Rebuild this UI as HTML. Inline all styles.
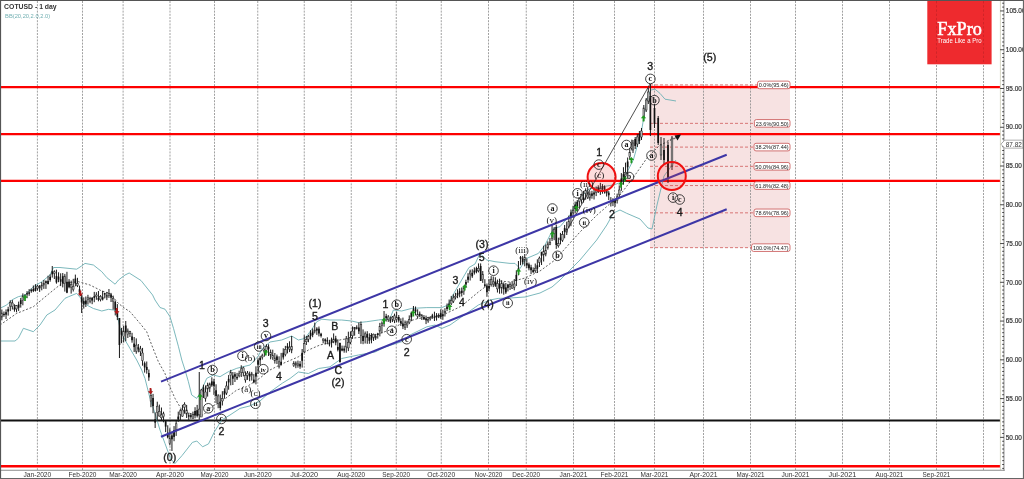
<!DOCTYPE html><html><head><meta charset="utf-8"><style>html,body{margin:0;padding:0;background:#fff;overflow:hidden}svg{display:block;will-change:transform}</style></head><body><svg width="1024" height="479" viewBox="0 0 1024 479">
<rect x="0" y="0" width="1024" height="479" fill="#fff"/>
<rect x="650" y="84.92" width="140" height="162.74" fill="#f7e2e2"/>
<line x1="37.4" y1="1" x2="37.4" y2="470" stroke="#8a8a8a" stroke-width="1" stroke-dasharray="2,1.2" opacity="0.8"/>
<line x1="82.5" y1="1" x2="82.5" y2="470" stroke="#8a8a8a" stroke-width="1" stroke-dasharray="2,1.2" opacity="0.8"/>
<line x1="123.1" y1="1" x2="123.1" y2="470" stroke="#8a8a8a" stroke-width="1" stroke-dasharray="2,1.2" opacity="0.8"/>
<line x1="170" y1="1" x2="170" y2="470" stroke="#8a8a8a" stroke-width="1" stroke-dasharray="2,1.2" opacity="0.8"/>
<line x1="214.5" y1="1" x2="214.5" y2="470" stroke="#8a8a8a" stroke-width="1" stroke-dasharray="2,1.2" opacity="0.8"/>
<line x1="257.75" y1="1" x2="257.75" y2="470" stroke="#8a8a8a" stroke-width="1" stroke-dasharray="2,1.2" opacity="0.8"/>
<line x1="304.25" y1="1" x2="304.25" y2="470" stroke="#8a8a8a" stroke-width="1" stroke-dasharray="2,1.2" opacity="0.8"/>
<line x1="351.25" y1="1" x2="351.25" y2="470" stroke="#8a8a8a" stroke-width="1" stroke-dasharray="2,1.2" opacity="0.8"/>
<line x1="396.25" y1="1" x2="396.25" y2="470" stroke="#8a8a8a" stroke-width="1" stroke-dasharray="2,1.2" opacity="0.8"/>
<line x1="441.25" y1="1" x2="441.25" y2="470" stroke="#8a8a8a" stroke-width="1" stroke-dasharray="2,1.2" opacity="0.8"/>
<line x1="488.5" y1="1" x2="488.5" y2="470" stroke="#8a8a8a" stroke-width="1" stroke-dasharray="2,1.2" opacity="0.8"/>
<line x1="526.25" y1="1" x2="526.25" y2="470" stroke="#8a8a8a" stroke-width="1" stroke-dasharray="2,1.2" opacity="0.8"/>
<line x1="573.5" y1="1" x2="573.5" y2="470" stroke="#8a8a8a" stroke-width="1" stroke-dasharray="2,1.2" opacity="0.8"/>
<line x1="614.5" y1="1" x2="614.5" y2="470" stroke="#8a8a8a" stroke-width="1" stroke-dasharray="2,1.2" opacity="0.8"/>
<line x1="654.5" y1="1" x2="654.5" y2="470" stroke="#8a8a8a" stroke-width="1" stroke-dasharray="2,1.2" opacity="0.8"/>
<line x1="703.5" y1="1" x2="703.5" y2="470" stroke="#8a8a8a" stroke-width="1" stroke-dasharray="2,1.2" opacity="0.8"/>
<line x1="750.5" y1="1" x2="750.5" y2="470" stroke="#8a8a8a" stroke-width="1" stroke-dasharray="2,1.2" opacity="0.8"/>
<line x1="795.5" y1="1" x2="795.5" y2="470" stroke="#8a8a8a" stroke-width="1" stroke-dasharray="2,1.2" opacity="0.8"/>
<line x1="842.5" y1="1" x2="842.5" y2="470" stroke="#8a8a8a" stroke-width="1" stroke-dasharray="2,1.2" opacity="0.8"/>
<line x1="889.5" y1="1" x2="889.5" y2="470" stroke="#8a8a8a" stroke-width="1" stroke-dasharray="2,1.2" opacity="0.8"/>
<line x1="936.5" y1="1" x2="936.5" y2="470" stroke="#8a8a8a" stroke-width="1" stroke-dasharray="2,1.2" opacity="0.8"/>
<line x1="983.5" y1="1" x2="983.5" y2="470" stroke="#8a8a8a" stroke-width="1" stroke-dasharray="2,1.2" opacity="0.8"/>
<line x1="650" y1="84.92" x2="790" y2="84.92" stroke="#d46a6a" stroke-width="0.9" stroke-dasharray="3,2"/>
<line x1="650" y1="123.37" x2="790" y2="123.37" stroke="#d46a6a" stroke-width="0.9" stroke-dasharray="3,2"/>
<line x1="650" y1="147.10" x2="790" y2="147.10" stroke="#d46a6a" stroke-width="0.9" stroke-dasharray="3,2"/>
<line x1="650" y1="166.33" x2="790" y2="166.33" stroke="#d46a6a" stroke-width="0.9" stroke-dasharray="3,2"/>
<line x1="650" y1="185.55" x2="790" y2="185.55" stroke="#d46a6a" stroke-width="0.9" stroke-dasharray="3,2"/>
<line x1="650" y1="212.84" x2="790" y2="212.84" stroke="#d46a6a" stroke-width="0.9" stroke-dasharray="3,2"/>
<line x1="650" y1="247.65" x2="790" y2="247.65" stroke="#d46a6a" stroke-width="0.9" stroke-dasharray="3,2"/>
<line x1="1" y1="87.06" x2="1000.5" y2="87.06" stroke="#fd0000" stroke-width="2.3"/>
<line x1="1" y1="134.1" x2="1000.5" y2="134.1" stroke="#fd0000" stroke-width="2.3"/>
<line x1="1" y1="180.9" x2="1000.5" y2="180.9" stroke="#fd0000" stroke-width="2.3"/>
<line x1="1" y1="466.25" x2="1000.5" y2="466.25" stroke="#fd0000" stroke-width="2.3"/>
<line x1="1" y1="420.5" x2="1000.5" y2="420.5" stroke="#111" stroke-width="2"/>
<path d="M0.0,308.3 L6.7,305.0 L11.7,300.0 L18.3,296.7 L25.0,295.0 L33.4,286.7 L41.8,281.7 L50.0,275.0 L53.5,267.5 L60.0,267.5 L76.7,269.2 L81.7,265.9 L85.0,263.4 L93.4,265.0 L101.8,271.7 L106.8,277.6 L115.1,284.2 L118.5,280.0 L125.0,275.0 L129.2,273.0 L141.0,280.5 L152.6,295.0 L155.0,300.0 L160.0,307.5 L165.0,309.2 L170.0,316.7 L173.5,328.4 L178.5,346.8 L181.8,360.0 L185.0,370.0 L188.4,381.7 L191.7,395.0 L196.7,398.4 L200.9,391.7 L206.7,378.4 L213.4,375.0 L220.0,376.7 L228.4,371.7 L236.8,368.3 L250.0,365.0 L258.0,356.5 L262.0,349.0 L270.0,342.0 L281.7,340.0 L291.7,336.0 L298.4,340.0 L305.0,338.4 L311.8,329.2 L316.8,321.7 L321.8,319.2 L330.0,320.0 L341.7,320.0 L351.7,321.0 L358.4,322.6 L366.8,321.7 L378.5,320.0 L390.0,318.4 L393.4,310.0 L401.7,311.0 L411.7,308.4 L426.8,307.6 L441.8,307.6 L448.0,305.0 L454.3,292.6 L468.9,267.6 L475.0,264.0 L480.0,253.4 L486.8,260.0 L495.0,261.7 L510.0,263.4 L515.0,263.4 L520.0,268.5 L526.7,258.4 L538.4,253.4 L545.0,245.0 L553.5,228.4 L560.0,226.7 L570.0,215.0 L575.0,205.0 L580.0,198.0 L589.0,189.0 L614.0,184.8 L622.0,182.0 L633.3,160.0 L641.7,130.0 L646.7,100.0 L650.8,90.0 L655.0,89.2 L660.0,93.4 L665.0,99.2 L670.0,100.0 L676.0,101.0" fill="none" stroke="#6db0b4" stroke-width="0.9"/>
<path d="M0.0,341.0 L15.0,341.0 L18.3,338.3 L23.4,328.3 L33.4,331.7 L40.0,325.0 L46.8,315.0 L55.0,310.0 L65.0,298.3 L68.4,296.8 L76.7,293.4 L81.7,299.3 L86.7,305.0 L93.4,308.5 L101.8,311.0 L108.5,309.3 L113.5,310.0 L116.8,312.0 L120.0,328.4 L125.0,340.0 L130.0,348.5 L136.7,360.0 L141.7,370.0 L145.0,378.5 L150.0,398.4 L155.0,413.4 L160.0,430.0 L165.0,443.5 L170.5,458.5 L174.9,463.6 L182.0,455.6 L192.4,442.4 L196.8,441.0 L202.6,446.8 L208.5,443.9 L214.3,432.0 L221.7,420.0 L230.0,415.0 L240.0,408.4 L250.0,405.9 L260.0,401.0 L270.0,392.0 L282.6,383.0 L290.0,378.5 L298.4,372.0 L308.4,373.5 L318.5,368.5 L330.0,366.8 L341.7,358.5 L358.4,355.0 L375.0,352.0 L385.0,347.0 L401.7,341.7 L410.0,335.0 L426.8,326.8 L435.0,325.0 L441.8,328.4 L450.0,325.0 L461.7,316.8 L478.4,305.0 L490.0,300.0 L498.4,298.4 L510.0,298.0 L525.0,297.0 L540.0,293.0 L552.0,287.0 L560.0,280.0 L570.0,270.0 L580.0,260.0 L596.7,240.0 L606.8,225.0 L613.5,213.0 L620.0,210.0 L626.7,213.3 L640.0,219.0 L648.0,228.0 L652.0,229.0 L657.0,205.0 L664.0,176.0 L676.0,160.0" fill="none" stroke="#6db0b4" stroke-width="0.9"/>
<path d="M0.0,325.0 L16.7,313.4 L33.4,306.7 L43.4,298.3 L53.5,290.0 L61.8,283.4 L78.4,281.7 L90.0,285.0 L101.8,291.0 L110.0,293.4 L118.5,303.5 L125.0,308.5 L130.0,311.7 L140.0,323.4 L146.7,331.7 L151.7,345.0 L158.4,361.8 L165.0,373.5 L168.4,383.4 L175.0,398.4 L181.8,410.0 L185.0,411.7 L195.0,415.0 L203.4,415.0 L211.7,406.7 L223.4,400.0 L236.8,390.0 L246.8,386.7 L260.0,378.0 L270.0,370.0 L281.7,364.0 L298.4,356.8 L308.4,350.0 L320.0,345.0 L330.0,342.6 L341.7,339.5 L358.4,337.5 L375.0,335.0 L390.0,330.0 L401.7,323.4 L418.4,318.4 L435.0,316.8 L445.0,314.0 L461.7,306.0 L478.4,292.0 L487.0,285.5 L500.0,281.0 L510.0,282.0 L525.0,278.0 L540.0,271.0 L555.0,260.0 L570.0,243.0 L580.0,232.0 L596.5,215.5 L620.0,195.0 L633.0,178.0 L647.0,158.0 L660.0,145.0 L676.0,138.0" fill="none" stroke="#444" stroke-width="0.85" stroke-dasharray="2,1.8"/>
<line x1="1.85" y1="309.5" x2="1.85" y2="320.3" stroke="#1a1a1a" stroke-width="1"/>
<rect x="1.00" y="313.0" width="1.7" height="4.1" fill="#b4b4b4" stroke="#222" stroke-width="0.5"/>
<line x1="3.95" y1="311.5" x2="3.95" y2="316.8" stroke="#1a1a1a" stroke-width="1"/>
<rect x="3.10" y="313.8" width="1.7" height="1.3" fill="#111"/>
<line x1="6.05" y1="309.4" x2="6.05" y2="319.0" stroke="#1a1a1a" stroke-width="1"/>
<rect x="5.20" y="312.2" width="1.7" height="2.5" fill="#111"/>
<line x1="8.15" y1="306.8" x2="8.15" y2="315.6" stroke="#1a1a1a" stroke-width="1"/>
<rect x="7.30" y="309.2" width="1.7" height="2.3" fill="#111"/>
<line x1="10.25" y1="300.3" x2="10.25" y2="311.1" stroke="#1a1a1a" stroke-width="1"/>
<rect x="9.40" y="302.4" width="1.7" height="3.7" fill="#b4b4b4" stroke="#222" stroke-width="0.5"/>
<line x1="12.35" y1="300.1" x2="12.35" y2="309.5" stroke="#1a1a1a" stroke-width="1"/>
<rect x="11.50" y="303.0" width="1.7" height="3.5" fill="#b4b4b4" stroke="#222" stroke-width="0.5"/>
<line x1="14.45" y1="304.3" x2="14.45" y2="311.7" stroke="#1a1a1a" stroke-width="1"/>
<rect x="13.60" y="307.4" width="1.7" height="2.3" fill="#111"/>
<line x1="16.55" y1="305.0" x2="16.55" y2="312.3" stroke="#1a1a1a" stroke-width="1"/>
<rect x="15.70" y="305.7" width="1.7" height="3.2" fill="#b4b4b4" stroke="#222" stroke-width="0.5"/>
<line x1="18.65" y1="301.6" x2="18.65" y2="310.9" stroke="#1a1a1a" stroke-width="1"/>
<rect x="17.80" y="304.4" width="1.7" height="3.3" fill="#111"/>
<line x1="20.75" y1="297.9" x2="20.75" y2="307.6" stroke="#1a1a1a" stroke-width="1"/>
<rect x="19.90" y="300.2" width="1.7" height="3.8" fill="#111"/>
<line x1="22.85" y1="293.4" x2="22.85" y2="305.3" stroke="#1a1a1a" stroke-width="1"/>
<rect x="22.00" y="296.1" width="1.7" height="4.2" fill="#b4b4b4" stroke="#222" stroke-width="0.5"/>
<line x1="24.95" y1="294.2" x2="24.95" y2="298.5" stroke="#1a1a1a" stroke-width="1"/>
<rect x="24.10" y="295.6" width="1.7" height="1.3" fill="#111"/>
<line x1="27.05" y1="291.1" x2="27.05" y2="298.2" stroke="#1a1a1a" stroke-width="1"/>
<rect x="26.20" y="293.2" width="1.7" height="1.3" fill="#111"/>
<line x1="29.15" y1="289.1" x2="29.15" y2="295.8" stroke="#1a1a1a" stroke-width="1"/>
<rect x="28.30" y="292.3" width="1.7" height="1.5" fill="#111"/>
<line x1="31.25" y1="288.6" x2="31.25" y2="292.8" stroke="#1a1a1a" stroke-width="1"/>
<rect x="30.40" y="289.9" width="1.7" height="1.3" fill="#111"/>
<line x1="33.35" y1="285.5" x2="33.35" y2="292.1" stroke="#1a1a1a" stroke-width="1"/>
<rect x="32.50" y="288.9" width="1.7" height="2.1" fill="#111"/>
<line x1="35.45" y1="284.2" x2="35.45" y2="291.5" stroke="#1a1a1a" stroke-width="1"/>
<rect x="34.60" y="287.7" width="1.7" height="3.2" fill="#111"/>
<line x1="37.55" y1="284.9" x2="37.55" y2="290.5" stroke="#1a1a1a" stroke-width="1"/>
<rect x="36.70" y="286.1" width="1.7" height="2.1" fill="#b4b4b4" stroke="#222" stroke-width="0.5"/>
<line x1="39.65" y1="285.0" x2="39.65" y2="291.9" stroke="#1a1a1a" stroke-width="1"/>
<rect x="38.80" y="286.7" width="1.7" height="1.4" fill="#b4b4b4" stroke="#222" stroke-width="0.5"/>
<line x1="41.75" y1="282.0" x2="41.75" y2="290.3" stroke="#1a1a1a" stroke-width="1"/>
<rect x="40.90" y="285.2" width="1.7" height="1.3" fill="#b4b4b4" stroke="#222" stroke-width="0.5"/>
<line x1="43.85" y1="280.0" x2="43.85" y2="288.9" stroke="#1a1a1a" stroke-width="1"/>
<rect x="43.00" y="283.4" width="1.7" height="1.6" fill="#b4b4b4" stroke="#222" stroke-width="0.5"/>
<line x1="45.95" y1="280.4" x2="45.95" y2="288.9" stroke="#1a1a1a" stroke-width="1"/>
<rect x="45.10" y="281.2" width="1.7" height="1.7" fill="#111"/>
<line x1="48.05" y1="275.7" x2="48.05" y2="284.3" stroke="#1a1a1a" stroke-width="1"/>
<rect x="47.20" y="280.9" width="1.7" height="3.2" fill="#111"/>
<line x1="50.15" y1="274.3" x2="50.15" y2="281.7" stroke="#1a1a1a" stroke-width="1"/>
<rect x="49.30" y="276.7" width="1.7" height="3.3" fill="#111"/>
<line x1="52.25" y1="266.0" x2="52.25" y2="277.6" stroke="#1a1a1a" stroke-width="1"/>
<rect x="51.40" y="271.3" width="1.7" height="3.1" fill="#111"/>
<line x1="54.35" y1="270.3" x2="54.35" y2="279.0" stroke="#1a1a1a" stroke-width="1"/>
<rect x="53.50" y="271.8" width="1.7" height="1.6" fill="#b4b4b4" stroke="#222" stroke-width="0.5"/>
<line x1="56.45" y1="269.7" x2="56.45" y2="283.7" stroke="#1a1a1a" stroke-width="1"/>
<rect x="55.60" y="276.1" width="1.7" height="6.3" fill="#111"/>
<line x1="58.55" y1="272.3" x2="58.55" y2="282.2" stroke="#1a1a1a" stroke-width="1"/>
<rect x="57.70" y="276.6" width="1.7" height="2.9" fill="#111"/>
<line x1="60.65" y1="273.3" x2="60.65" y2="286.1" stroke="#1a1a1a" stroke-width="1"/>
<rect x="59.80" y="279.2" width="1.7" height="2.5" fill="#111"/>
<line x1="62.75" y1="273.0" x2="62.75" y2="287.4" stroke="#1a1a1a" stroke-width="1"/>
<rect x="61.90" y="276.2" width="1.7" height="7.1" fill="#111"/>
<line x1="64.85" y1="273.9" x2="64.85" y2="291.6" stroke="#1a1a1a" stroke-width="1"/>
<rect x="64.00" y="276.1" width="1.7" height="7.5" fill="#b4b4b4" stroke="#222" stroke-width="0.5"/>
<line x1="66.95" y1="271.8" x2="66.95" y2="293.2" stroke="#1a1a1a" stroke-width="1"/>
<rect x="66.10" y="281.8" width="1.7" height="10.9" fill="#111"/>
<line x1="69.05" y1="279.1" x2="69.05" y2="288.3" stroke="#1a1a1a" stroke-width="1"/>
<rect x="68.20" y="281.6" width="1.7" height="5.6" fill="#111"/>
<line x1="71.15" y1="280.6" x2="71.15" y2="293.6" stroke="#1a1a1a" stroke-width="1"/>
<rect x="70.30" y="284.5" width="1.7" height="2.7" fill="#b4b4b4" stroke="#222" stroke-width="0.5"/>
<line x1="73.25" y1="278.8" x2="73.25" y2="291.5" stroke="#1a1a1a" stroke-width="1"/>
<rect x="72.40" y="286.4" width="1.7" height="3.3" fill="#b4b4b4" stroke="#222" stroke-width="0.5"/>
<line x1="75.35" y1="274.6" x2="75.35" y2="286.3" stroke="#1a1a1a" stroke-width="1"/>
<rect x="74.50" y="278.6" width="1.7" height="4.9" fill="#111"/>
<line x1="77.45" y1="277.8" x2="77.45" y2="287.1" stroke="#1a1a1a" stroke-width="1"/>
<rect x="76.60" y="283.5" width="1.7" height="1.9" fill="#b4b4b4" stroke="#222" stroke-width="0.5"/>
<line x1="79.55" y1="285.6" x2="79.55" y2="295.1" stroke="#1a1a1a" stroke-width="1"/>
<rect x="78.70" y="289.3" width="1.7" height="3.2" fill="#111"/>
<line x1="81.65" y1="294.6" x2="81.65" y2="313.0" stroke="#1a1a1a" stroke-width="1"/>
<rect x="80.80" y="297.3" width="1.7" height="5.1" fill="#111"/>
<line x1="83.75" y1="297.4" x2="83.75" y2="308.6" stroke="#1a1a1a" stroke-width="1"/>
<rect x="82.90" y="300.9" width="1.7" height="3.7" fill="#111"/>
<line x1="85.85" y1="296.5" x2="85.85" y2="307.0" stroke="#1a1a1a" stroke-width="1"/>
<rect x="85.00" y="300.5" width="1.7" height="3.4" fill="#111"/>
<line x1="87.95" y1="294.8" x2="87.95" y2="304.6" stroke="#1a1a1a" stroke-width="1"/>
<rect x="87.10" y="297.8" width="1.7" height="1.5" fill="#b4b4b4" stroke="#222" stroke-width="0.5"/>
<line x1="90.05" y1="296.8" x2="90.05" y2="303.3" stroke="#1a1a1a" stroke-width="1"/>
<rect x="89.20" y="298.7" width="1.7" height="2.5" fill="#b4b4b4" stroke="#222" stroke-width="0.5"/>
<line x1="92.15" y1="297.1" x2="92.15" y2="304.2" stroke="#1a1a1a" stroke-width="1"/>
<rect x="91.30" y="297.8" width="1.7" height="2.7" fill="#111"/>
<line x1="94.25" y1="291.9" x2="94.25" y2="302.2" stroke="#1a1a1a" stroke-width="1"/>
<rect x="93.40" y="296.2" width="1.7" height="1.6" fill="#111"/>
<line x1="96.35" y1="292.2" x2="96.35" y2="299.8" stroke="#1a1a1a" stroke-width="1"/>
<rect x="95.50" y="295.0" width="1.7" height="1.3" fill="#b4b4b4" stroke="#222" stroke-width="0.5"/>
<line x1="98.45" y1="291.0" x2="98.45" y2="301.3" stroke="#1a1a1a" stroke-width="1"/>
<rect x="97.60" y="297.8" width="1.7" height="2.0" fill="#111"/>
<line x1="100.55" y1="295.1" x2="100.55" y2="301.4" stroke="#1a1a1a" stroke-width="1"/>
<rect x="99.70" y="296.5" width="1.7" height="3.1" fill="#b4b4b4" stroke="#222" stroke-width="0.5"/>
<line x1="102.65" y1="290.8" x2="102.65" y2="300.5" stroke="#1a1a1a" stroke-width="1"/>
<rect x="101.80" y="297.3" width="1.7" height="2.1" fill="#111"/>
<line x1="104.75" y1="292.8" x2="104.75" y2="298.4" stroke="#1a1a1a" stroke-width="1"/>
<rect x="103.90" y="293.1" width="1.7" height="1.5" fill="#111"/>
<line x1="106.85" y1="292.1" x2="106.85" y2="300.1" stroke="#1a1a1a" stroke-width="1"/>
<rect x="106.00" y="295.7" width="1.7" height="1.5" fill="#b4b4b4" stroke="#222" stroke-width="0.5"/>
<line x1="108.95" y1="289.0" x2="108.95" y2="297.9" stroke="#1a1a1a" stroke-width="1"/>
<rect x="108.10" y="293.6" width="1.7" height="1.7" fill="#b4b4b4" stroke="#222" stroke-width="0.5"/>
<line x1="111.05" y1="292.9" x2="111.05" y2="302.0" stroke="#1a1a1a" stroke-width="1"/>
<rect x="110.20" y="294.6" width="1.7" height="3.1" fill="#111"/>
<line x1="113.15" y1="295.6" x2="113.15" y2="309.6" stroke="#1a1a1a" stroke-width="1"/>
<rect x="112.30" y="298.4" width="1.7" height="3.2" fill="#b4b4b4" stroke="#222" stroke-width="0.5"/>
<line x1="115.25" y1="300.7" x2="115.25" y2="315.4" stroke="#1a1a1a" stroke-width="1"/>
<rect x="114.40" y="301.8" width="1.7" height="8.0" fill="#111"/>
<line x1="117.35" y1="304.1" x2="117.35" y2="320.1" stroke="#1a1a1a" stroke-width="1"/>
<rect x="116.50" y="311.2" width="1.7" height="5.7" fill="#111"/>
<line x1="119.45" y1="318.0" x2="119.45" y2="358.0" stroke="#1a1a1a" stroke-width="1"/>
<rect x="118.60" y="318.0" width="1.7" height="27.0" fill="#111"/>
<line x1="121.55" y1="327.9" x2="121.55" y2="343.2" stroke="#1a1a1a" stroke-width="1"/>
<rect x="120.70" y="330.7" width="1.7" height="4.0" fill="#111"/>
<line x1="123.65" y1="325.8" x2="123.65" y2="342.5" stroke="#1a1a1a" stroke-width="1"/>
<rect x="122.80" y="331.0" width="1.7" height="5.6" fill="#b4b4b4" stroke="#222" stroke-width="0.5"/>
<line x1="125.75" y1="321.0" x2="125.75" y2="341.2" stroke="#1a1a1a" stroke-width="1"/>
<rect x="124.90" y="325.5" width="1.7" height="7.0" fill="#111"/>
<line x1="127.85" y1="328.5" x2="127.85" y2="338.0" stroke="#1a1a1a" stroke-width="1"/>
<rect x="127.00" y="330.8" width="1.7" height="3.7" fill="#b4b4b4" stroke="#222" stroke-width="0.5"/>
<line x1="129.95" y1="330.8" x2="129.95" y2="337.0" stroke="#1a1a1a" stroke-width="1"/>
<rect x="129.10" y="331.7" width="1.7" height="2.1" fill="#b4b4b4" stroke="#222" stroke-width="0.5"/>
<line x1="132.05" y1="332.8" x2="132.05" y2="342.7" stroke="#1a1a1a" stroke-width="1"/>
<rect x="131.20" y="336.5" width="1.7" height="3.7" fill="#111"/>
<line x1="134.15" y1="337.0" x2="134.15" y2="352.0" stroke="#1a1a1a" stroke-width="1"/>
<rect x="133.30" y="343.6" width="1.7" height="3.5" fill="#111"/>
<line x1="136.25" y1="338.4" x2="136.25" y2="353.8" stroke="#1a1a1a" stroke-width="1"/>
<rect x="135.40" y="345.1" width="1.7" height="6.1" fill="#b4b4b4" stroke="#222" stroke-width="0.5"/>
<line x1="138.35" y1="344.0" x2="138.35" y2="352.3" stroke="#1a1a1a" stroke-width="1"/>
<rect x="137.50" y="347.2" width="1.7" height="2.2" fill="#111"/>
<line x1="140.45" y1="345.9" x2="140.45" y2="356.0" stroke="#1a1a1a" stroke-width="1"/>
<rect x="139.60" y="348.9" width="1.7" height="2.8" fill="#b4b4b4" stroke="#222" stroke-width="0.5"/>
<line x1="142.55" y1="347.9" x2="142.55" y2="365.7" stroke="#1a1a1a" stroke-width="1"/>
<rect x="141.70" y="353.0" width="1.7" height="7.5" fill="#b4b4b4" stroke="#222" stroke-width="0.5"/>
<line x1="144.65" y1="361.5" x2="144.65" y2="372.6" stroke="#1a1a1a" stroke-width="1"/>
<rect x="143.80" y="363.2" width="1.7" height="4.2" fill="#111"/>
<line x1="146.75" y1="361.5" x2="146.75" y2="373.7" stroke="#1a1a1a" stroke-width="1"/>
<rect x="145.90" y="366.9" width="1.7" height="3.1" fill="#111"/>
<line x1="148.85" y1="369.5" x2="148.85" y2="380.8" stroke="#1a1a1a" stroke-width="1"/>
<rect x="148.00" y="373.0" width="1.7" height="4.4" fill="#111"/>
<line x1="150.95" y1="389.3" x2="150.95" y2="407.2" stroke="#1a1a1a" stroke-width="1"/>
<rect x="150.10" y="395.4" width="1.7" height="5.6" fill="#b4b4b4" stroke="#222" stroke-width="0.5"/>
<line x1="153.05" y1="393.9" x2="153.05" y2="413.2" stroke="#1a1a1a" stroke-width="1"/>
<rect x="152.20" y="398.0" width="1.7" height="8.1" fill="#111"/>
<line x1="155.15" y1="412.4" x2="155.15" y2="428.0" stroke="#1a1a1a" stroke-width="1"/>
<rect x="154.30" y="419.3" width="1.7" height="3.3" fill="#111"/>
<line x1="157.25" y1="401.7" x2="157.25" y2="421.3" stroke="#1a1a1a" stroke-width="1"/>
<rect x="156.40" y="406.2" width="1.7" height="6.3" fill="#b4b4b4" stroke="#222" stroke-width="0.5"/>
<line x1="159.35" y1="404.6" x2="159.35" y2="416.7" stroke="#1a1a1a" stroke-width="1"/>
<rect x="158.50" y="411.4" width="1.7" height="4.6" fill="#b4b4b4" stroke="#222" stroke-width="0.5"/>
<line x1="161.45" y1="407.5" x2="161.45" y2="420.3" stroke="#1a1a1a" stroke-width="1"/>
<rect x="160.60" y="414.9" width="1.7" height="2.9" fill="#b4b4b4" stroke="#222" stroke-width="0.5"/>
<line x1="163.55" y1="411.7" x2="163.55" y2="422.3" stroke="#1a1a1a" stroke-width="1"/>
<rect x="162.70" y="413.8" width="1.7" height="2.9" fill="#b4b4b4" stroke="#222" stroke-width="0.5"/>
<line x1="165.65" y1="420.7" x2="165.65" y2="432.1" stroke="#1a1a1a" stroke-width="1"/>
<rect x="164.80" y="421.2" width="1.7" height="5.4" fill="#111"/>
<line x1="167.75" y1="425.3" x2="167.75" y2="438.4" stroke="#1a1a1a" stroke-width="1"/>
<rect x="166.90" y="432.8" width="1.7" height="4.6" fill="#111"/>
<line x1="169.85" y1="428.3" x2="169.85" y2="445.3" stroke="#1a1a1a" stroke-width="1"/>
<rect x="169.00" y="438.6" width="1.7" height="4.7" fill="#b4b4b4" stroke="#222" stroke-width="0.5"/>
<line x1="171.95" y1="431.7" x2="171.95" y2="451.0" stroke="#1a1a1a" stroke-width="1"/>
<rect x="171.10" y="435.4" width="1.7" height="3.9" fill="#111"/>
<line x1="174.05" y1="426.1" x2="174.05" y2="441.2" stroke="#1a1a1a" stroke-width="1"/>
<rect x="173.20" y="430.1" width="1.7" height="6.8" fill="#111"/>
<line x1="176.15" y1="420.9" x2="176.15" y2="435.9" stroke="#1a1a1a" stroke-width="1"/>
<rect x="175.30" y="423.8" width="1.7" height="5.9" fill="#b4b4b4" stroke="#222" stroke-width="0.5"/>
<line x1="178.25" y1="411.6" x2="178.25" y2="421.8" stroke="#1a1a1a" stroke-width="1"/>
<rect x="177.40" y="416.6" width="1.7" height="2.9" fill="#111"/>
<line x1="180.35" y1="409.1" x2="180.35" y2="420.2" stroke="#1a1a1a" stroke-width="1"/>
<rect x="179.50" y="410.8" width="1.7" height="3.5" fill="#b4b4b4" stroke="#222" stroke-width="0.5"/>
<line x1="182.45" y1="404.8" x2="182.45" y2="416.8" stroke="#1a1a1a" stroke-width="1"/>
<rect x="181.60" y="410.0" width="1.7" height="6.1" fill="#b4b4b4" stroke="#222" stroke-width="0.5"/>
<line x1="184.55" y1="402.3" x2="184.55" y2="413.7" stroke="#1a1a1a" stroke-width="1"/>
<rect x="183.70" y="404.3" width="1.7" height="2.9" fill="#b4b4b4" stroke="#222" stroke-width="0.5"/>
<line x1="186.65" y1="404.9" x2="186.65" y2="418.0" stroke="#1a1a1a" stroke-width="1"/>
<rect x="185.80" y="410.0" width="1.7" height="4.1" fill="#b4b4b4" stroke="#222" stroke-width="0.5"/>
<line x1="188.75" y1="412.7" x2="188.75" y2="421.1" stroke="#1a1a1a" stroke-width="1"/>
<rect x="187.90" y="415.2" width="1.7" height="1.5" fill="#111"/>
<line x1="190.85" y1="413.4" x2="190.85" y2="418.8" stroke="#1a1a1a" stroke-width="1"/>
<rect x="190.00" y="415.2" width="1.7" height="1.7" fill="#111"/>
<line x1="192.95" y1="411.6" x2="192.95" y2="418.7" stroke="#1a1a1a" stroke-width="1"/>
<rect x="192.10" y="414.6" width="1.7" height="3.7" fill="#b4b4b4" stroke="#222" stroke-width="0.5"/>
<line x1="195.05" y1="407.2" x2="195.05" y2="418.4" stroke="#1a1a1a" stroke-width="1"/>
<rect x="194.20" y="411.0" width="1.7" height="4.4" fill="#111"/>
<line x1="197.15" y1="404.9" x2="197.15" y2="417.5" stroke="#1a1a1a" stroke-width="1"/>
<rect x="196.30" y="410.2" width="1.7" height="5.6" fill="#111"/>
<line x1="199.25" y1="372.0" x2="199.25" y2="419.8" stroke="#1a1a1a" stroke-width="1"/>
<rect x="198.40" y="409.1" width="1.7" height="5.7" fill="#b4b4b4" stroke="#222" stroke-width="0.5"/>
<line x1="201.35" y1="388.9" x2="201.35" y2="417.0" stroke="#1a1a1a" stroke-width="1"/>
<rect x="200.50" y="390.0" width="1.7" height="27.0" fill="#b4b4b4" stroke="#222" stroke-width="0.5"/>
<line x1="203.45" y1="384.7" x2="203.45" y2="398.0" stroke="#1a1a1a" stroke-width="1"/>
<rect x="202.60" y="387.5" width="1.7" height="4.1" fill="#111"/>
<line x1="205.55" y1="385.4" x2="205.55" y2="401.7" stroke="#1a1a1a" stroke-width="1"/>
<rect x="204.70" y="392.0" width="1.7" height="6.3" fill="#b4b4b4" stroke="#222" stroke-width="0.5"/>
<line x1="207.65" y1="382.7" x2="207.65" y2="396.6" stroke="#1a1a1a" stroke-width="1"/>
<rect x="206.80" y="385.5" width="1.7" height="3.5" fill="#b4b4b4" stroke="#222" stroke-width="0.5"/>
<line x1="209.75" y1="382.6" x2="209.75" y2="392.1" stroke="#1a1a1a" stroke-width="1"/>
<rect x="208.90" y="383.9" width="1.7" height="4.3" fill="#b4b4b4" stroke="#222" stroke-width="0.5"/>
<line x1="211.85" y1="377.3" x2="211.85" y2="386.8" stroke="#1a1a1a" stroke-width="1"/>
<rect x="211.00" y="381.4" width="1.7" height="4.0" fill="#111"/>
<line x1="213.95" y1="378.8" x2="213.95" y2="394.9" stroke="#1a1a1a" stroke-width="1"/>
<rect x="213.10" y="381.5" width="1.7" height="4.4" fill="#111"/>
<line x1="216.05" y1="384.3" x2="216.05" y2="403.0" stroke="#1a1a1a" stroke-width="1"/>
<rect x="215.20" y="390.3" width="1.7" height="5.7" fill="#111"/>
<line x1="218.15" y1="394.2" x2="218.15" y2="408.2" stroke="#1a1a1a" stroke-width="1"/>
<rect x="217.30" y="395.9" width="1.7" height="7.9" fill="#b4b4b4" stroke="#222" stroke-width="0.5"/>
<line x1="220.25" y1="394.6" x2="220.25" y2="410.4" stroke="#1a1a1a" stroke-width="1"/>
<rect x="219.40" y="402.1" width="1.7" height="5.9" fill="#111"/>
<line x1="222.35" y1="391.2" x2="222.35" y2="405.5" stroke="#1a1a1a" stroke-width="1"/>
<rect x="221.50" y="398.5" width="1.7" height="2.5" fill="#b4b4b4" stroke="#222" stroke-width="0.5"/>
<line x1="224.45" y1="388.3" x2="224.45" y2="398.7" stroke="#1a1a1a" stroke-width="1"/>
<rect x="223.60" y="391.0" width="1.7" height="3.6" fill="#111"/>
<line x1="226.55" y1="381.3" x2="226.55" y2="394.9" stroke="#1a1a1a" stroke-width="1"/>
<rect x="225.70" y="386.0" width="1.7" height="7.0" fill="#b4b4b4" stroke="#222" stroke-width="0.5"/>
<line x1="228.65" y1="375.1" x2="228.65" y2="389.7" stroke="#1a1a1a" stroke-width="1"/>
<rect x="227.80" y="378.8" width="1.7" height="3.6" fill="#111"/>
<line x1="230.75" y1="369.9" x2="230.75" y2="385.3" stroke="#1a1a1a" stroke-width="1"/>
<rect x="229.90" y="372.5" width="1.7" height="2.9" fill="#b4b4b4" stroke="#222" stroke-width="0.5"/>
<line x1="232.85" y1="372.0" x2="232.85" y2="385.0" stroke="#1a1a1a" stroke-width="1"/>
<rect x="232.00" y="375.5" width="1.7" height="3.2" fill="#111"/>
<line x1="234.95" y1="372.2" x2="234.95" y2="382.0" stroke="#1a1a1a" stroke-width="1"/>
<rect x="234.10" y="374.2" width="1.7" height="2.5" fill="#111"/>
<line x1="237.05" y1="372.9" x2="237.05" y2="380.0" stroke="#1a1a1a" stroke-width="1"/>
<rect x="236.20" y="376.9" width="1.7" height="1.5" fill="#111"/>
<line x1="239.15" y1="370.7" x2="239.15" y2="377.4" stroke="#1a1a1a" stroke-width="1"/>
<rect x="238.30" y="373.8" width="1.7" height="2.1" fill="#b4b4b4" stroke="#222" stroke-width="0.5"/>
<line x1="241.25" y1="365.3" x2="241.25" y2="377.0" stroke="#1a1a1a" stroke-width="1"/>
<rect x="240.40" y="368.8" width="1.7" height="3.6" fill="#b4b4b4" stroke="#222" stroke-width="0.5"/>
<line x1="243.35" y1="366.7" x2="243.35" y2="376.4" stroke="#1a1a1a" stroke-width="1"/>
<rect x="242.50" y="367.9" width="1.7" height="4.9" fill="#b4b4b4" stroke="#222" stroke-width="0.5"/>
<line x1="245.45" y1="371.4" x2="245.45" y2="382.7" stroke="#1a1a1a" stroke-width="1"/>
<rect x="244.60" y="375.3" width="1.7" height="4.6" fill="#b4b4b4" stroke="#222" stroke-width="0.5"/>
<line x1="247.55" y1="371.0" x2="247.55" y2="379.9" stroke="#1a1a1a" stroke-width="1"/>
<rect x="246.70" y="373.1" width="1.7" height="2.3" fill="#b4b4b4" stroke="#222" stroke-width="0.5"/>
<line x1="249.65" y1="371.6" x2="249.65" y2="381.2" stroke="#1a1a1a" stroke-width="1"/>
<rect x="248.80" y="374.0" width="1.7" height="2.6" fill="#111"/>
<line x1="251.75" y1="371.9" x2="251.75" y2="380.6" stroke="#1a1a1a" stroke-width="1"/>
<rect x="250.90" y="373.8" width="1.7" height="1.9" fill="#b4b4b4" stroke="#222" stroke-width="0.5"/>
<line x1="253.85" y1="374.1" x2="253.85" y2="383.3" stroke="#1a1a1a" stroke-width="1"/>
<rect x="253.00" y="379.6" width="1.7" height="2.8" fill="#111"/>
<line x1="255.95" y1="366.3" x2="255.95" y2="384.4" stroke="#1a1a1a" stroke-width="1"/>
<rect x="255.10" y="372.7" width="1.7" height="3.9" fill="#111"/>
<line x1="258.05" y1="358.2" x2="258.05" y2="374.0" stroke="#1a1a1a" stroke-width="1"/>
<rect x="257.20" y="360.3" width="1.7" height="4.4" fill="#111"/>
<line x1="260.15" y1="355.8" x2="260.15" y2="365.1" stroke="#1a1a1a" stroke-width="1"/>
<rect x="259.30" y="357.7" width="1.7" height="2.5" fill="#111"/>
<line x1="262.25" y1="353.7" x2="262.25" y2="359.6" stroke="#1a1a1a" stroke-width="1"/>
<rect x="261.40" y="355.8" width="1.7" height="1.3" fill="#b4b4b4" stroke="#222" stroke-width="0.5"/>
<line x1="264.35" y1="348.5" x2="264.35" y2="356.7" stroke="#1a1a1a" stroke-width="1"/>
<rect x="263.50" y="350.2" width="1.7" height="1.5" fill="#b4b4b4" stroke="#222" stroke-width="0.5"/>
<line x1="266.45" y1="344.3" x2="266.45" y2="352.2" stroke="#1a1a1a" stroke-width="1"/>
<rect x="265.60" y="346.7" width="1.7" height="3.7" fill="#b4b4b4" stroke="#222" stroke-width="0.5"/>
<line x1="268.55" y1="344.3" x2="268.55" y2="356.0" stroke="#1a1a1a" stroke-width="1"/>
<rect x="267.70" y="346.8" width="1.7" height="2.4" fill="#111"/>
<line x1="270.65" y1="349.5" x2="270.65" y2="359.3" stroke="#1a1a1a" stroke-width="1"/>
<rect x="269.80" y="352.6" width="1.7" height="2.4" fill="#b4b4b4" stroke="#222" stroke-width="0.5"/>
<line x1="272.75" y1="349.7" x2="272.75" y2="359.8" stroke="#1a1a1a" stroke-width="1"/>
<rect x="271.90" y="355.5" width="1.7" height="2.1" fill="#b4b4b4" stroke="#222" stroke-width="0.5"/>
<line x1="274.85" y1="353.0" x2="274.85" y2="363.6" stroke="#1a1a1a" stroke-width="1"/>
<rect x="274.00" y="357.9" width="1.7" height="2.9" fill="#b4b4b4" stroke="#222" stroke-width="0.5"/>
<line x1="276.95" y1="354.6" x2="276.95" y2="364.0" stroke="#1a1a1a" stroke-width="1"/>
<rect x="276.10" y="356.4" width="1.7" height="3.7" fill="#111"/>
<line x1="279.05" y1="356.3" x2="279.05" y2="368.5" stroke="#1a1a1a" stroke-width="1"/>
<rect x="278.20" y="361.8" width="1.7" height="4.7" fill="#b4b4b4" stroke="#222" stroke-width="0.5"/>
<line x1="281.15" y1="352.9" x2="281.15" y2="365.6" stroke="#1a1a1a" stroke-width="1"/>
<rect x="280.30" y="361.8" width="1.7" height="2.8" fill="#111"/>
<line x1="283.25" y1="348.3" x2="283.25" y2="359.6" stroke="#1a1a1a" stroke-width="1"/>
<rect x="282.40" y="352.8" width="1.7" height="4.6" fill="#111"/>
<line x1="285.35" y1="345.9" x2="285.35" y2="356.3" stroke="#1a1a1a" stroke-width="1"/>
<rect x="284.50" y="349.5" width="1.7" height="5.1" fill="#b4b4b4" stroke="#222" stroke-width="0.5"/>
<line x1="287.45" y1="343.1" x2="287.45" y2="353.4" stroke="#1a1a1a" stroke-width="1"/>
<rect x="286.60" y="345.9" width="1.7" height="2.3" fill="#111"/>
<line x1="289.55" y1="341.3" x2="289.55" y2="352.1" stroke="#1a1a1a" stroke-width="1"/>
<rect x="288.70" y="347.2" width="1.7" height="1.9" fill="#b4b4b4" stroke="#222" stroke-width="0.5"/>
<line x1="291.65" y1="336.0" x2="291.65" y2="353.2" stroke="#1a1a1a" stroke-width="1"/>
<rect x="290.80" y="346.5" width="1.7" height="3.7" fill="#b4b4b4" stroke="#222" stroke-width="0.5"/>
<line x1="293.75" y1="361.2" x2="293.75" y2="366.9" stroke="#1a1a1a" stroke-width="1"/>
<rect x="292.90" y="363.5" width="1.7" height="2.2" fill="#b4b4b4" stroke="#222" stroke-width="0.5"/>
<line x1="295.85" y1="361.3" x2="295.85" y2="368.2" stroke="#1a1a1a" stroke-width="1"/>
<rect x="295.00" y="362.9" width="1.7" height="2.2" fill="#b4b4b4" stroke="#222" stroke-width="0.5"/>
<line x1="297.95" y1="360.6" x2="297.95" y2="367.7" stroke="#1a1a1a" stroke-width="1"/>
<rect x="297.10" y="363.9" width="1.7" height="1.3" fill="#b4b4b4" stroke="#222" stroke-width="0.5"/>
<line x1="300.05" y1="361.1" x2="300.05" y2="368.8" stroke="#1a1a1a" stroke-width="1"/>
<rect x="299.20" y="363.8" width="1.7" height="2.7" fill="#111"/>
<line x1="302.15" y1="349.0" x2="302.15" y2="367.6" stroke="#1a1a1a" stroke-width="1"/>
<rect x="301.30" y="352.9" width="1.7" height="7.9" fill="#111"/>
<line x1="304.25" y1="335.3" x2="304.25" y2="352.8" stroke="#1a1a1a" stroke-width="1"/>
<rect x="303.40" y="343.7" width="1.7" height="8.2" fill="#b4b4b4" stroke="#222" stroke-width="0.5"/>
<line x1="306.35" y1="336.0" x2="306.35" y2="345.0" stroke="#1a1a1a" stroke-width="1"/>
<rect x="305.50" y="339.6" width="1.7" height="2.2" fill="#b4b4b4" stroke="#222" stroke-width="0.5"/>
<line x1="308.45" y1="334.9" x2="308.45" y2="342.2" stroke="#1a1a1a" stroke-width="1"/>
<rect x="307.60" y="336.5" width="1.7" height="2.7" fill="#b4b4b4" stroke="#222" stroke-width="0.5"/>
<line x1="310.55" y1="330.2" x2="310.55" y2="339.6" stroke="#1a1a1a" stroke-width="1"/>
<rect x="309.70" y="333.1" width="1.7" height="3.0" fill="#111"/>
<line x1="312.65" y1="328.4" x2="312.65" y2="337.2" stroke="#1a1a1a" stroke-width="1"/>
<rect x="311.80" y="331.5" width="1.7" height="3.6" fill="#111"/>
<line x1="314.75" y1="322.6" x2="314.75" y2="333.4" stroke="#1a1a1a" stroke-width="1"/>
<rect x="313.90" y="330.0" width="1.7" height="1.3" fill="#b4b4b4" stroke="#222" stroke-width="0.5"/>
<line x1="316.85" y1="327.2" x2="316.85" y2="334.9" stroke="#1a1a1a" stroke-width="1"/>
<rect x="316.00" y="328.6" width="1.7" height="2.0" fill="#111"/>
<line x1="318.95" y1="326.5" x2="318.95" y2="336.4" stroke="#1a1a1a" stroke-width="1"/>
<rect x="318.10" y="328.7" width="1.7" height="4.8" fill="#111"/>
<line x1="321.05" y1="332.8" x2="321.05" y2="337.5" stroke="#1a1a1a" stroke-width="1"/>
<rect x="320.20" y="333.8" width="1.7" height="2.1" fill="#111"/>
<line x1="323.15" y1="338.3" x2="323.15" y2="343.3" stroke="#1a1a1a" stroke-width="1"/>
<rect x="322.30" y="339.0" width="1.7" height="1.3" fill="#b4b4b4" stroke="#222" stroke-width="0.5"/>
<line x1="325.25" y1="338.4" x2="325.25" y2="344.4" stroke="#1a1a1a" stroke-width="1"/>
<rect x="324.40" y="339.4" width="1.7" height="1.8" fill="#111"/>
<line x1="327.35" y1="337.3" x2="327.35" y2="344.3" stroke="#1a1a1a" stroke-width="1"/>
<rect x="326.50" y="340.2" width="1.7" height="1.3" fill="#111"/>
<line x1="329.45" y1="339.8" x2="329.45" y2="346.4" stroke="#1a1a1a" stroke-width="1"/>
<rect x="328.60" y="343.1" width="1.7" height="1.3" fill="#111"/>
<line x1="331.55" y1="337.6" x2="331.55" y2="347.5" stroke="#1a1a1a" stroke-width="1"/>
<rect x="330.70" y="339.6" width="1.7" height="3.3" fill="#111"/>
<line x1="333.65" y1="333.4" x2="333.65" y2="343.2" stroke="#1a1a1a" stroke-width="1"/>
<rect x="332.80" y="339.1" width="1.7" height="2.2" fill="#b4b4b4" stroke="#222" stroke-width="0.5"/>
<line x1="335.75" y1="335.8" x2="335.75" y2="345.3" stroke="#1a1a1a" stroke-width="1"/>
<rect x="334.90" y="338.4" width="1.7" height="4.2" fill="#111"/>
<line x1="337.85" y1="339.3" x2="337.85" y2="351.4" stroke="#1a1a1a" stroke-width="1"/>
<rect x="337.00" y="347.0" width="1.7" height="2.8" fill="#111"/>
<line x1="339.95" y1="342.6" x2="339.95" y2="362.7" stroke="#1a1a1a" stroke-width="1"/>
<rect x="339.10" y="343.0" width="1.7" height="19.0" fill="#111"/>
<line x1="342.05" y1="345.6" x2="342.05" y2="351.3" stroke="#1a1a1a" stroke-width="1"/>
<rect x="341.20" y="348.6" width="1.7" height="1.9" fill="#111"/>
<line x1="344.15" y1="345.7" x2="344.15" y2="352.7" stroke="#1a1a1a" stroke-width="1"/>
<rect x="343.30" y="348.6" width="1.7" height="2.0" fill="#111"/>
<line x1="346.25" y1="336.0" x2="346.25" y2="352.7" stroke="#1a1a1a" stroke-width="1"/>
<rect x="345.40" y="338.8" width="1.7" height="8.1" fill="#b4b4b4" stroke="#222" stroke-width="0.5"/>
<line x1="348.35" y1="331.7" x2="348.35" y2="351.1" stroke="#1a1a1a" stroke-width="1"/>
<rect x="347.50" y="342.3" width="1.7" height="5.6" fill="#b4b4b4" stroke="#222" stroke-width="0.5"/>
<line x1="350.45" y1="331.4" x2="350.45" y2="344.2" stroke="#1a1a1a" stroke-width="1"/>
<rect x="349.60" y="337.5" width="1.7" height="4.7" fill="#b4b4b4" stroke="#222" stroke-width="0.5"/>
<line x1="352.55" y1="326.4" x2="352.55" y2="338.8" stroke="#1a1a1a" stroke-width="1"/>
<rect x="351.70" y="331.1" width="1.7" height="4.7" fill="#b4b4b4" stroke="#222" stroke-width="0.5"/>
<line x1="354.65" y1="327.1" x2="354.65" y2="335.7" stroke="#1a1a1a" stroke-width="1"/>
<rect x="353.80" y="327.4" width="1.7" height="1.8" fill="#b4b4b4" stroke="#222" stroke-width="0.5"/>
<line x1="356.75" y1="325.3" x2="356.75" y2="329.5" stroke="#1a1a1a" stroke-width="1"/>
<rect x="355.90" y="327.4" width="1.7" height="1.3" fill="#111"/>
<line x1="358.85" y1="322.5" x2="358.85" y2="334.0" stroke="#1a1a1a" stroke-width="1"/>
<rect x="358.00" y="327.5" width="1.7" height="3.8" fill="#111"/>
<line x1="360.95" y1="321.5" x2="360.95" y2="343.8" stroke="#1a1a1a" stroke-width="1"/>
<rect x="360.10" y="324.6" width="1.7" height="10.9" fill="#b4b4b4" stroke="#222" stroke-width="0.5"/>
<line x1="363.05" y1="329.4" x2="363.05" y2="344.2" stroke="#1a1a1a" stroke-width="1"/>
<rect x="362.20" y="335.9" width="1.7" height="5.1" fill="#111"/>
<line x1="365.15" y1="331.5" x2="365.15" y2="343.5" stroke="#1a1a1a" stroke-width="1"/>
<rect x="364.30" y="333.8" width="1.7" height="3.2" fill="#b4b4b4" stroke="#222" stroke-width="0.5"/>
<line x1="367.25" y1="331.2" x2="367.25" y2="343.8" stroke="#1a1a1a" stroke-width="1"/>
<rect x="366.40" y="333.9" width="1.7" height="3.9" fill="#111"/>
<line x1="369.35" y1="333.3" x2="369.35" y2="343.8" stroke="#1a1a1a" stroke-width="1"/>
<rect x="368.50" y="337.2" width="1.7" height="3.6" fill="#111"/>
<line x1="371.45" y1="333.1" x2="371.45" y2="343.3" stroke="#1a1a1a" stroke-width="1"/>
<rect x="370.60" y="334.9" width="1.7" height="4.8" fill="#111"/>
<line x1="373.55" y1="333.6" x2="373.55" y2="341.0" stroke="#1a1a1a" stroke-width="1"/>
<rect x="372.70" y="334.2" width="1.7" height="3.0" fill="#b4b4b4" stroke="#222" stroke-width="0.5"/>
<line x1="375.65" y1="333.9" x2="375.65" y2="339.9" stroke="#1a1a1a" stroke-width="1"/>
<rect x="374.80" y="336.5" width="1.7" height="1.6" fill="#b4b4b4" stroke="#222" stroke-width="0.5"/>
<line x1="377.75" y1="332.8" x2="377.75" y2="338.6" stroke="#1a1a1a" stroke-width="1"/>
<rect x="376.90" y="333.6" width="1.7" height="1.4" fill="#111"/>
<line x1="379.85" y1="322.9" x2="379.85" y2="336.4" stroke="#1a1a1a" stroke-width="1"/>
<rect x="379.00" y="326.5" width="1.7" height="4.7" fill="#b4b4b4" stroke="#222" stroke-width="0.5"/>
<line x1="381.95" y1="321.4" x2="381.95" y2="333.3" stroke="#1a1a1a" stroke-width="1"/>
<rect x="381.10" y="323.1" width="1.7" height="2.4" fill="#b4b4b4" stroke="#222" stroke-width="0.5"/>
<line x1="384.05" y1="311.0" x2="384.05" y2="326.7" stroke="#1a1a1a" stroke-width="1"/>
<rect x="383.20" y="320.3" width="1.7" height="1.9" fill="#111"/>
<line x1="386.15" y1="313.8" x2="386.15" y2="321.6" stroke="#1a1a1a" stroke-width="1"/>
<rect x="385.30" y="316.1" width="1.7" height="1.9" fill="#111"/>
<line x1="388.25" y1="315.1" x2="388.25" y2="321.9" stroke="#1a1a1a" stroke-width="1"/>
<rect x="387.40" y="316.9" width="1.7" height="2.9" fill="#b4b4b4" stroke="#222" stroke-width="0.5"/>
<line x1="390.35" y1="316.5" x2="390.35" y2="323.0" stroke="#1a1a1a" stroke-width="1"/>
<rect x="389.50" y="319.5" width="1.7" height="2.0" fill="#111"/>
<line x1="392.45" y1="316.0" x2="392.45" y2="322.1" stroke="#1a1a1a" stroke-width="1"/>
<rect x="391.60" y="317.1" width="1.7" height="2.0" fill="#b4b4b4" stroke="#222" stroke-width="0.5"/>
<line x1="394.55" y1="313.6" x2="394.55" y2="323.1" stroke="#1a1a1a" stroke-width="1"/>
<rect x="393.70" y="315.9" width="1.7" height="4.6" fill="#b4b4b4" stroke="#222" stroke-width="0.5"/>
<line x1="396.65" y1="311.7" x2="396.65" y2="322.2" stroke="#1a1a1a" stroke-width="1"/>
<rect x="395.80" y="317.4" width="1.7" height="2.1" fill="#b4b4b4" stroke="#222" stroke-width="0.5"/>
<line x1="398.75" y1="315.0" x2="398.75" y2="322.5" stroke="#1a1a1a" stroke-width="1"/>
<rect x="397.90" y="317.0" width="1.7" height="3.6" fill="#111"/>
<line x1="400.85" y1="318.4" x2="400.85" y2="325.9" stroke="#1a1a1a" stroke-width="1"/>
<rect x="400.00" y="321.1" width="1.7" height="2.2" fill="#111"/>
<line x1="402.95" y1="317.6" x2="402.95" y2="329.1" stroke="#1a1a1a" stroke-width="1"/>
<rect x="402.10" y="323.6" width="1.7" height="2.8" fill="#111"/>
<line x1="405.05" y1="320.5" x2="405.05" y2="330.0" stroke="#1a1a1a" stroke-width="1"/>
<rect x="404.20" y="324.2" width="1.7" height="3.0" fill="#b4b4b4" stroke="#222" stroke-width="0.5"/>
<line x1="407.15" y1="320.7" x2="407.15" y2="327.9" stroke="#1a1a1a" stroke-width="1"/>
<rect x="406.30" y="323.0" width="1.7" height="2.0" fill="#b4b4b4" stroke="#222" stroke-width="0.5"/>
<line x1="409.25" y1="315.4" x2="409.25" y2="324.1" stroke="#1a1a1a" stroke-width="1"/>
<rect x="408.40" y="319.7" width="1.7" height="3.0" fill="#b4b4b4" stroke="#222" stroke-width="0.5"/>
<line x1="411.35" y1="311.5" x2="411.35" y2="321.2" stroke="#1a1a1a" stroke-width="1"/>
<rect x="410.50" y="312.7" width="1.7" height="4.6" fill="#111"/>
<line x1="413.45" y1="306.0" x2="413.45" y2="315.1" stroke="#1a1a1a" stroke-width="1"/>
<rect x="412.60" y="309.3" width="1.7" height="2.1" fill="#111"/>
<line x1="415.55" y1="306.5" x2="415.55" y2="315.4" stroke="#1a1a1a" stroke-width="1"/>
<rect x="414.70" y="309.4" width="1.7" height="2.2" fill="#111"/>
<line x1="417.65" y1="309.3" x2="417.65" y2="318.7" stroke="#1a1a1a" stroke-width="1"/>
<rect x="416.80" y="314.6" width="1.7" height="1.8" fill="#b4b4b4" stroke="#222" stroke-width="0.5"/>
<line x1="419.75" y1="311.5" x2="419.75" y2="317.0" stroke="#1a1a1a" stroke-width="1"/>
<rect x="418.90" y="313.7" width="1.7" height="1.8" fill="#111"/>
<line x1="421.85" y1="314.0" x2="421.85" y2="320.0" stroke="#1a1a1a" stroke-width="1"/>
<rect x="421.00" y="315.3" width="1.7" height="2.1" fill="#b4b4b4" stroke="#222" stroke-width="0.5"/>
<line x1="423.95" y1="315.1" x2="423.95" y2="320.0" stroke="#1a1a1a" stroke-width="1"/>
<rect x="423.10" y="317.1" width="1.7" height="2.2" fill="#111"/>
<line x1="426.05" y1="315.6" x2="426.05" y2="324.1" stroke="#1a1a1a" stroke-width="1"/>
<rect x="425.20" y="318.3" width="1.7" height="2.0" fill="#111"/>
<line x1="428.15" y1="316.9" x2="428.15" y2="322.8" stroke="#1a1a1a" stroke-width="1"/>
<rect x="427.30" y="319.6" width="1.7" height="1.3" fill="#b4b4b4" stroke="#222" stroke-width="0.5"/>
<line x1="430.25" y1="316.2" x2="430.25" y2="320.5" stroke="#1a1a1a" stroke-width="1"/>
<rect x="429.40" y="317.5" width="1.7" height="1.3" fill="#b4b4b4" stroke="#222" stroke-width="0.5"/>
<line x1="432.35" y1="313.8" x2="432.35" y2="318.8" stroke="#1a1a1a" stroke-width="1"/>
<rect x="431.50" y="315.4" width="1.7" height="1.5" fill="#111"/>
<line x1="434.45" y1="311.7" x2="434.45" y2="321.0" stroke="#1a1a1a" stroke-width="1"/>
<rect x="433.60" y="316.8" width="1.7" height="1.3" fill="#111"/>
<line x1="436.55" y1="313.1" x2="436.55" y2="320.6" stroke="#1a1a1a" stroke-width="1"/>
<rect x="435.70" y="315.4" width="1.7" height="1.3" fill="#111"/>
<line x1="438.65" y1="313.4" x2="438.65" y2="318.1" stroke="#1a1a1a" stroke-width="1"/>
<rect x="437.80" y="315.7" width="1.7" height="1.4" fill="#b4b4b4" stroke="#222" stroke-width="0.5"/>
<line x1="440.75" y1="309.4" x2="440.75" y2="318.9" stroke="#1a1a1a" stroke-width="1"/>
<rect x="439.90" y="313.2" width="1.7" height="4.1" fill="#111"/>
<line x1="442.85" y1="309.7" x2="442.85" y2="319.8" stroke="#1a1a1a" stroke-width="1"/>
<rect x="442.00" y="314.5" width="1.7" height="1.8" fill="#111"/>
<line x1="444.95" y1="308.2" x2="444.95" y2="316.5" stroke="#1a1a1a" stroke-width="1"/>
<rect x="444.10" y="311.3" width="1.7" height="1.5" fill="#b4b4b4" stroke="#222" stroke-width="0.5"/>
<line x1="447.05" y1="303.5" x2="447.05" y2="311.1" stroke="#1a1a1a" stroke-width="1"/>
<rect x="446.20" y="306.4" width="1.7" height="2.6" fill="#111"/>
<line x1="449.15" y1="299.5" x2="449.15" y2="308.6" stroke="#1a1a1a" stroke-width="1"/>
<rect x="448.30" y="303.7" width="1.7" height="2.6" fill="#111"/>
<line x1="451.25" y1="295.9" x2="451.25" y2="305.1" stroke="#1a1a1a" stroke-width="1"/>
<rect x="450.40" y="300.5" width="1.7" height="3.2" fill="#b4b4b4" stroke="#222" stroke-width="0.5"/>
<line x1="453.35" y1="294.3" x2="453.35" y2="303.0" stroke="#1a1a1a" stroke-width="1"/>
<rect x="452.50" y="297.9" width="1.7" height="3.3" fill="#b4b4b4" stroke="#222" stroke-width="0.5"/>
<line x1="455.45" y1="292.8" x2="455.45" y2="299.5" stroke="#1a1a1a" stroke-width="1"/>
<rect x="454.60" y="296.2" width="1.7" height="1.3" fill="#b4b4b4" stroke="#222" stroke-width="0.5"/>
<line x1="457.55" y1="289.3" x2="457.55" y2="298.2" stroke="#1a1a1a" stroke-width="1"/>
<rect x="456.70" y="293.0" width="1.7" height="2.6" fill="#111"/>
<line x1="459.65" y1="288.2" x2="459.65" y2="297.3" stroke="#1a1a1a" stroke-width="1"/>
<rect x="458.80" y="291.3" width="1.7" height="2.5" fill="#111"/>
<line x1="461.75" y1="287.5" x2="461.75" y2="296.5" stroke="#1a1a1a" stroke-width="1"/>
<rect x="460.90" y="290.8" width="1.7" height="2.2" fill="#111"/>
<line x1="463.85" y1="286.6" x2="463.85" y2="294.8" stroke="#1a1a1a" stroke-width="1"/>
<rect x="463.00" y="288.0" width="1.7" height="3.6" fill="#b4b4b4" stroke="#222" stroke-width="0.5"/>
<line x1="465.95" y1="279.7" x2="465.95" y2="288.0" stroke="#1a1a1a" stroke-width="1"/>
<rect x="465.10" y="282.0" width="1.7" height="2.5" fill="#111"/>
<line x1="468.05" y1="273.2" x2="468.05" y2="282.8" stroke="#1a1a1a" stroke-width="1"/>
<rect x="467.20" y="276.6" width="1.7" height="3.2" fill="#111"/>
<line x1="470.15" y1="269.7" x2="470.15" y2="280.5" stroke="#1a1a1a" stroke-width="1"/>
<rect x="469.30" y="271.9" width="1.7" height="2.1" fill="#b4b4b4" stroke="#222" stroke-width="0.5"/>
<line x1="472.25" y1="269.3" x2="472.25" y2="277.9" stroke="#1a1a1a" stroke-width="1"/>
<rect x="471.40" y="273.0" width="1.7" height="3.3" fill="#111"/>
<line x1="474.35" y1="267.4" x2="474.35" y2="274.6" stroke="#1a1a1a" stroke-width="1"/>
<rect x="473.50" y="270.5" width="1.7" height="2.2" fill="#111"/>
<line x1="476.45" y1="266.7" x2="476.45" y2="273.3" stroke="#1a1a1a" stroke-width="1"/>
<rect x="475.60" y="268.3" width="1.7" height="3.6" fill="#111"/>
<line x1="478.55" y1="263.4" x2="478.55" y2="272.4" stroke="#1a1a1a" stroke-width="1"/>
<rect x="477.70" y="268.3" width="1.7" height="2.5" fill="#b4b4b4" stroke="#222" stroke-width="0.5"/>
<line x1="480.65" y1="263.4" x2="480.65" y2="281.0" stroke="#1a1a1a" stroke-width="1"/>
<rect x="479.80" y="266.0" width="1.7" height="15.0" fill="#111"/>
<line x1="482.75" y1="271.0" x2="482.75" y2="282.9" stroke="#1a1a1a" stroke-width="1"/>
<rect x="481.90" y="274.2" width="1.7" height="5.3" fill="#b4b4b4" stroke="#222" stroke-width="0.5"/>
<line x1="484.85" y1="279.2" x2="484.85" y2="287.4" stroke="#1a1a1a" stroke-width="1"/>
<rect x="484.00" y="284.4" width="1.7" height="1.5" fill="#111"/>
<line x1="486.95" y1="283.5" x2="486.95" y2="296.8" stroke="#1a1a1a" stroke-width="1"/>
<rect x="486.10" y="286.1" width="1.7" height="6.1" fill="#111"/>
<line x1="489.05" y1="279.1" x2="489.05" y2="291.3" stroke="#1a1a1a" stroke-width="1"/>
<rect x="488.20" y="286.0" width="1.7" height="2.6" fill="#111"/>
<line x1="491.15" y1="276.1" x2="491.15" y2="286.6" stroke="#1a1a1a" stroke-width="1"/>
<rect x="490.30" y="279.7" width="1.7" height="4.7" fill="#b4b4b4" stroke="#222" stroke-width="0.5"/>
<line x1="493.25" y1="276.5" x2="493.25" y2="287.1" stroke="#1a1a1a" stroke-width="1"/>
<rect x="492.40" y="281.8" width="1.7" height="2.3" fill="#b4b4b4" stroke="#222" stroke-width="0.5"/>
<line x1="495.35" y1="277.3" x2="495.35" y2="286.9" stroke="#1a1a1a" stroke-width="1"/>
<rect x="494.50" y="281.5" width="1.7" height="4.2" fill="#111"/>
<line x1="497.45" y1="279.6" x2="497.45" y2="292.5" stroke="#1a1a1a" stroke-width="1"/>
<rect x="496.60" y="283.6" width="1.7" height="5.3" fill="#b4b4b4" stroke="#222" stroke-width="0.5"/>
<line x1="499.55" y1="278.7" x2="499.55" y2="293.7" stroke="#1a1a1a" stroke-width="1"/>
<rect x="498.70" y="284.0" width="1.7" height="4.1" fill="#111"/>
<line x1="501.65" y1="280.3" x2="501.65" y2="293.5" stroke="#1a1a1a" stroke-width="1"/>
<rect x="500.80" y="283.1" width="1.7" height="5.1" fill="#b4b4b4" stroke="#222" stroke-width="0.5"/>
<line x1="503.75" y1="282.4" x2="503.75" y2="294.7" stroke="#1a1a1a" stroke-width="1"/>
<rect x="502.90" y="284.2" width="1.7" height="5.1" fill="#111"/>
<line x1="505.85" y1="283.0" x2="505.85" y2="293.9" stroke="#1a1a1a" stroke-width="1"/>
<rect x="505.00" y="287.4" width="1.7" height="5.0" fill="#111"/>
<line x1="507.95" y1="283.8" x2="507.95" y2="291.4" stroke="#1a1a1a" stroke-width="1"/>
<rect x="507.10" y="284.5" width="1.7" height="3.4" fill="#111"/>
<line x1="510.05" y1="282.3" x2="510.05" y2="290.0" stroke="#1a1a1a" stroke-width="1"/>
<rect x="509.20" y="284.5" width="1.7" height="1.8" fill="#b4b4b4" stroke="#222" stroke-width="0.5"/>
<line x1="512.15" y1="282.0" x2="512.15" y2="288.9" stroke="#1a1a1a" stroke-width="1"/>
<rect x="511.30" y="285.1" width="1.7" height="3.1" fill="#b4b4b4" stroke="#222" stroke-width="0.5"/>
<line x1="514.25" y1="279.1" x2="514.25" y2="290.3" stroke="#1a1a1a" stroke-width="1"/>
<rect x="513.40" y="284.0" width="1.7" height="3.2" fill="#b4b4b4" stroke="#222" stroke-width="0.5"/>
<line x1="516.35" y1="270.3" x2="516.35" y2="286.0" stroke="#1a1a1a" stroke-width="1"/>
<rect x="515.50" y="274.9" width="1.7" height="6.1" fill="#111"/>
<line x1="518.45" y1="261.0" x2="518.45" y2="275.3" stroke="#1a1a1a" stroke-width="1"/>
<rect x="517.60" y="268.4" width="1.7" height="3.1" fill="#111"/>
<line x1="520.55" y1="256.0" x2="520.55" y2="265.2" stroke="#1a1a1a" stroke-width="1"/>
<rect x="519.70" y="257.1" width="1.7" height="1.8" fill="#111"/>
<line x1="522.65" y1="255.9" x2="522.65" y2="264.5" stroke="#1a1a1a" stroke-width="1"/>
<rect x="521.80" y="258.7" width="1.7" height="3.5" fill="#111"/>
<line x1="524.75" y1="254.0" x2="524.75" y2="266.3" stroke="#1a1a1a" stroke-width="1"/>
<rect x="523.90" y="257.3" width="1.7" height="2.6" fill="#b4b4b4" stroke="#222" stroke-width="0.5"/>
<line x1="526.85" y1="258.6" x2="526.85" y2="268.1" stroke="#1a1a1a" stroke-width="1"/>
<rect x="526.00" y="263.1" width="1.7" height="2.4" fill="#111"/>
<line x1="528.95" y1="262.6" x2="528.95" y2="270.3" stroke="#1a1a1a" stroke-width="1"/>
<rect x="528.10" y="264.3" width="1.7" height="4.0" fill="#111"/>
<line x1="531.05" y1="264.8" x2="531.05" y2="274.0" stroke="#1a1a1a" stroke-width="1"/>
<rect x="530.20" y="267.3" width="1.7" height="2.9" fill="#111"/>
<line x1="533.15" y1="267.4" x2="533.15" y2="273.0" stroke="#1a1a1a" stroke-width="1"/>
<rect x="532.30" y="270.1" width="1.7" height="1.9" fill="#111"/>
<line x1="535.25" y1="263.5" x2="535.25" y2="272.8" stroke="#1a1a1a" stroke-width="1"/>
<rect x="534.40" y="268.2" width="1.7" height="2.6" fill="#b4b4b4" stroke="#222" stroke-width="0.5"/>
<line x1="537.35" y1="259.3" x2="537.35" y2="273.0" stroke="#1a1a1a" stroke-width="1"/>
<rect x="536.50" y="265.3" width="1.7" height="3.4" fill="#111"/>
<line x1="539.45" y1="256.5" x2="539.45" y2="267.0" stroke="#1a1a1a" stroke-width="1"/>
<rect x="538.60" y="258.1" width="1.7" height="4.2" fill="#b4b4b4" stroke="#222" stroke-width="0.5"/>
<line x1="541.55" y1="251.7" x2="541.55" y2="265.0" stroke="#1a1a1a" stroke-width="1"/>
<rect x="540.70" y="252.0" width="1.7" height="3.7" fill="#111"/>
<line x1="543.65" y1="245.7" x2="543.65" y2="261.5" stroke="#1a1a1a" stroke-width="1"/>
<rect x="542.80" y="251.5" width="1.7" height="3.3" fill="#b4b4b4" stroke="#222" stroke-width="0.5"/>
<line x1="545.75" y1="244.5" x2="545.75" y2="256.3" stroke="#1a1a1a" stroke-width="1"/>
<rect x="544.90" y="250.7" width="1.7" height="3.4" fill="#b4b4b4" stroke="#222" stroke-width="0.5"/>
<line x1="547.85" y1="241.4" x2="547.85" y2="249.6" stroke="#1a1a1a" stroke-width="1"/>
<rect x="547.00" y="243.9" width="1.7" height="3.9" fill="#b4b4b4" stroke="#222" stroke-width="0.5"/>
<line x1="549.95" y1="238.0" x2="549.95" y2="245.2" stroke="#1a1a1a" stroke-width="1"/>
<rect x="549.10" y="242.2" width="1.7" height="2.0" fill="#b4b4b4" stroke="#222" stroke-width="0.5"/>
<line x1="552.05" y1="225.0" x2="552.05" y2="241.0" stroke="#1a1a1a" stroke-width="1"/>
<rect x="551.20" y="235.8" width="1.7" height="2.5" fill="#b4b4b4" stroke="#222" stroke-width="0.5"/>
<line x1="554.15" y1="227.1" x2="554.15" y2="240.2" stroke="#1a1a1a" stroke-width="1"/>
<rect x="553.30" y="229.5" width="1.7" height="4.1" fill="#b4b4b4" stroke="#222" stroke-width="0.5"/>
<line x1="556.25" y1="224.6" x2="556.25" y2="248.9" stroke="#1a1a1a" stroke-width="1"/>
<rect x="555.40" y="227.0" width="1.7" height="18.0" fill="#111"/>
<line x1="558.35" y1="237.7" x2="558.35" y2="247.6" stroke="#1a1a1a" stroke-width="1"/>
<rect x="557.50" y="243.6" width="1.7" height="2.2" fill="#b4b4b4" stroke="#222" stroke-width="0.5"/>
<line x1="560.45" y1="232.9" x2="560.45" y2="244.4" stroke="#1a1a1a" stroke-width="1"/>
<rect x="559.60" y="237.5" width="1.7" height="2.5" fill="#111"/>
<line x1="562.55" y1="231.0" x2="562.55" y2="241.9" stroke="#1a1a1a" stroke-width="1"/>
<rect x="561.70" y="234.6" width="1.7" height="5.6" fill="#b4b4b4" stroke="#222" stroke-width="0.5"/>
<line x1="564.65" y1="225.0" x2="564.65" y2="238.3" stroke="#1a1a1a" stroke-width="1"/>
<rect x="563.80" y="228.1" width="1.7" height="3.7" fill="#111"/>
<line x1="566.75" y1="221.7" x2="566.75" y2="235.0" stroke="#1a1a1a" stroke-width="1"/>
<rect x="565.90" y="229.2" width="1.7" height="3.1" fill="#b4b4b4" stroke="#222" stroke-width="0.5"/>
<line x1="568.85" y1="215.6" x2="568.85" y2="228.2" stroke="#1a1a1a" stroke-width="1"/>
<rect x="568.00" y="221.2" width="1.7" height="5.5" fill="#b4b4b4" stroke="#222" stroke-width="0.5"/>
<line x1="570.95" y1="209.5" x2="570.95" y2="226.2" stroke="#1a1a1a" stroke-width="1"/>
<rect x="570.10" y="212.4" width="1.7" height="4.6" fill="#111"/>
<line x1="573.05" y1="205.8" x2="573.05" y2="218.0" stroke="#1a1a1a" stroke-width="1"/>
<rect x="572.20" y="210.5" width="1.7" height="2.4" fill="#b4b4b4" stroke="#222" stroke-width="0.5"/>
<line x1="575.15" y1="201.6" x2="575.15" y2="213.6" stroke="#1a1a1a" stroke-width="1"/>
<rect x="574.30" y="204.6" width="1.7" height="4.6" fill="#111"/>
<line x1="577.25" y1="200.0" x2="577.25" y2="211.5" stroke="#1a1a1a" stroke-width="1"/>
<rect x="576.40" y="201.8" width="1.7" height="5.6" fill="#111"/>
<line x1="579.35" y1="197.6" x2="579.35" y2="208.4" stroke="#1a1a1a" stroke-width="1"/>
<rect x="578.50" y="198.7" width="1.7" height="2.7" fill="#b4b4b4" stroke="#222" stroke-width="0.5"/>
<line x1="581.45" y1="193.7" x2="581.45" y2="203.7" stroke="#1a1a1a" stroke-width="1"/>
<rect x="580.60" y="194.7" width="1.7" height="5.1" fill="#b4b4b4" stroke="#222" stroke-width="0.5"/>
<line x1="583.55" y1="190.9" x2="583.55" y2="202.6" stroke="#1a1a1a" stroke-width="1"/>
<rect x="582.70" y="197.5" width="1.7" height="2.4" fill="#111"/>
<line x1="585.65" y1="188.3" x2="585.65" y2="199.7" stroke="#1a1a1a" stroke-width="1"/>
<rect x="584.80" y="190.4" width="1.7" height="3.1" fill="#b4b4b4" stroke="#222" stroke-width="0.5"/>
<line x1="587.75" y1="187.1" x2="587.75" y2="199.0" stroke="#1a1a1a" stroke-width="1"/>
<rect x="586.90" y="193.0" width="1.7" height="4.4" fill="#b4b4b4" stroke="#222" stroke-width="0.5"/>
<line x1="589.85" y1="191.3" x2="589.85" y2="200.6" stroke="#1a1a1a" stroke-width="1"/>
<rect x="589.00" y="193.9" width="1.7" height="4.2" fill="#b4b4b4" stroke="#222" stroke-width="0.5"/>
<line x1="591.95" y1="190.8" x2="591.95" y2="198.7" stroke="#1a1a1a" stroke-width="1"/>
<rect x="591.10" y="193.4" width="1.7" height="2.4" fill="#111"/>
<line x1="594.05" y1="187.4" x2="594.05" y2="199.5" stroke="#1a1a1a" stroke-width="1"/>
<rect x="593.20" y="192.5" width="1.7" height="2.0" fill="#111"/>
<line x1="596.15" y1="186.5" x2="596.15" y2="196.1" stroke="#1a1a1a" stroke-width="1"/>
<rect x="595.30" y="189.8" width="1.7" height="2.6" fill="#b4b4b4" stroke="#222" stroke-width="0.5"/>
<line x1="598.25" y1="185.3" x2="598.25" y2="193.0" stroke="#1a1a1a" stroke-width="1"/>
<rect x="597.40" y="187.4" width="1.7" height="4.7" fill="#111"/>
<line x1="600.35" y1="182.8" x2="600.35" y2="194.9" stroke="#1a1a1a" stroke-width="1"/>
<rect x="599.50" y="188.7" width="1.7" height="1.9" fill="#b4b4b4" stroke="#222" stroke-width="0.5"/>
<line x1="602.45" y1="184.1" x2="602.45" y2="193.7" stroke="#1a1a1a" stroke-width="1"/>
<rect x="601.60" y="186.3" width="1.7" height="2.8" fill="#111"/>
<line x1="604.55" y1="185.4" x2="604.55" y2="193.6" stroke="#1a1a1a" stroke-width="1"/>
<rect x="603.70" y="186.6" width="1.7" height="3.3" fill="#111"/>
<line x1="606.65" y1="189.6" x2="606.65" y2="196.5" stroke="#1a1a1a" stroke-width="1"/>
<rect x="605.80" y="190.8" width="1.7" height="2.2" fill="#b4b4b4" stroke="#222" stroke-width="0.5"/>
<line x1="608.75" y1="191.1" x2="608.75" y2="200.1" stroke="#1a1a1a" stroke-width="1"/>
<rect x="607.90" y="192.7" width="1.7" height="2.5" fill="#111"/>
<line x1="610.85" y1="197.1" x2="610.85" y2="206.5" stroke="#1a1a1a" stroke-width="1"/>
<rect x="610.00" y="201.5" width="1.7" height="2.0" fill="#b4b4b4" stroke="#222" stroke-width="0.5"/>
<line x1="612.95" y1="198.2" x2="612.95" y2="206.1" stroke="#1a1a1a" stroke-width="1"/>
<rect x="612.10" y="200.3" width="1.7" height="2.0" fill="#111"/>
<line x1="615.05" y1="198.6" x2="615.05" y2="206.8" stroke="#1a1a1a" stroke-width="1"/>
<rect x="614.20" y="199.3" width="1.7" height="3.6" fill="#111"/>
<line x1="617.15" y1="193.6" x2="617.15" y2="203.5" stroke="#1a1a1a" stroke-width="1"/>
<rect x="616.30" y="196.8" width="1.7" height="3.5" fill="#b4b4b4" stroke="#222" stroke-width="0.5"/>
<line x1="619.25" y1="185.4" x2="619.25" y2="197.2" stroke="#1a1a1a" stroke-width="1"/>
<rect x="618.40" y="190.0" width="1.7" height="4.5" fill="#b4b4b4" stroke="#222" stroke-width="0.5"/>
<line x1="621.35" y1="173.1" x2="621.35" y2="190.8" stroke="#1a1a1a" stroke-width="1"/>
<rect x="620.50" y="178.5" width="1.7" height="5.8" fill="#111"/>
<line x1="623.45" y1="167.2" x2="623.45" y2="184.7" stroke="#1a1a1a" stroke-width="1"/>
<rect x="622.60" y="174.2" width="1.7" height="7.5" fill="#111"/>
<line x1="625.55" y1="162.6" x2="625.55" y2="179.8" stroke="#1a1a1a" stroke-width="1"/>
<rect x="624.70" y="172.3" width="1.7" height="3.8" fill="#b4b4b4" stroke="#222" stroke-width="0.5"/>
<line x1="627.65" y1="157.5" x2="627.65" y2="173.6" stroke="#1a1a1a" stroke-width="1"/>
<rect x="626.80" y="161.5" width="1.7" height="5.8" fill="#111"/>
<line x1="629.75" y1="147.8" x2="629.75" y2="159.3" stroke="#1a1a1a" stroke-width="1"/>
<rect x="628.90" y="152.6" width="1.7" height="4.0" fill="#b4b4b4" stroke="#222" stroke-width="0.5"/>
<line x1="631.85" y1="139.6" x2="631.85" y2="150.4" stroke="#1a1a1a" stroke-width="1"/>
<rect x="631.00" y="143.9" width="1.7" height="5.0" fill="#b4b4b4" stroke="#222" stroke-width="0.5"/>
<line x1="633.00" y1="140.0" x2="633.00" y2="153.0" stroke="#1a1a1a" stroke-width="1"/>
<rect x="632.15" y="143.0" width="1.7" height="7.0" fill="#b4b4b4" stroke="#222" stroke-width="0.5"/>
<line x1="635.20" y1="137.0" x2="635.20" y2="149.0" stroke="#1a1a1a" stroke-width="1"/>
<rect x="634.35" y="139.0" width="1.7" height="7.0" fill="#111"/>
<line x1="637.30" y1="134.0" x2="637.30" y2="147.0" stroke="#1a1a1a" stroke-width="1"/>
<rect x="636.45" y="137.0" width="1.7" height="7.0" fill="#b4b4b4" stroke="#222" stroke-width="0.5"/>
<line x1="639.40" y1="131.0" x2="639.40" y2="144.0" stroke="#1a1a1a" stroke-width="1"/>
<rect x="638.55" y="134.0" width="1.7" height="7.0" fill="#111"/>
<line x1="641.50" y1="128.0" x2="641.50" y2="140.0" stroke="#1a1a1a" stroke-width="1"/>
<rect x="640.65" y="131.0" width="1.7" height="6.0" fill="#b4b4b4" stroke="#222" stroke-width="0.5"/>
<line x1="643.80" y1="105.0" x2="643.80" y2="121.0" stroke="#1a1a1a" stroke-width="1"/>
<rect x="642.95" y="108.0" width="1.7" height="10.0" fill="#b4b4b4" stroke="#222" stroke-width="0.5"/>
<line x1="646.20" y1="98.0" x2="646.20" y2="112.0" stroke="#1a1a1a" stroke-width="1"/>
<rect x="645.35" y="100.0" width="1.7" height="10.0" fill="#b4b4b4" stroke="#222" stroke-width="0.5"/>
<line x1="648.30" y1="88.0" x2="648.30" y2="104.0" stroke="#1a1a1a" stroke-width="1"/>
<rect x="647.45" y="92.0" width="1.7" height="9.0" fill="#b4b4b4" stroke="#222" stroke-width="0.5"/>
<line x1="650.40" y1="84.0" x2="650.40" y2="136.0" stroke="#1a1a1a" stroke-width="1"/>
<rect x="649.55" y="96.0" width="1.7" height="34.0" fill="#111"/>
<line x1="654.50" y1="104.0" x2="654.50" y2="128.0" stroke="#1a1a1a" stroke-width="1"/>
<rect x="653.65" y="108.0" width="1.7" height="16.0" fill="#111"/>
<line x1="658.20" y1="116.0" x2="658.20" y2="145.0" stroke="#1a1a1a" stroke-width="1"/>
<rect x="657.35" y="118.0" width="1.7" height="25.0" fill="#111"/>
<line x1="661.00" y1="137.0" x2="661.00" y2="160.0" stroke="#1a1a1a" stroke-width="1"/>
<rect x="660.15" y="145.0" width="1.7" height="10.0" fill="#b4b4b4" stroke="#222" stroke-width="0.5"/>
<line x1="664.00" y1="138.0" x2="664.00" y2="165.0" stroke="#1a1a1a" stroke-width="1"/>
<rect x="663.15" y="150.0" width="1.7" height="10.0" fill="#111"/>
<line x1="668.00" y1="142.0" x2="668.00" y2="183.0" stroke="#1a1a1a" stroke-width="1"/>
<rect x="667.15" y="145.0" width="1.7" height="33.0" fill="#111"/>
<line x1="672.00" y1="136.0" x2="672.00" y2="170.0" stroke="#1a1a1a" stroke-width="1"/>
<rect x="671.15" y="138.0" width="1.7" height="28.0" fill="#b4b4b4" stroke="#222" stroke-width="0.5"/>
<line x1="566" y1="232" x2="650" y2="84" stroke="#222" stroke-width="0.8"/>
<line x1="667" y1="141" x2="677" y2="137" stroke="#555" stroke-width="0.8" stroke-dasharray="2,1"/>
<path d="M681,134.5 L674.5,135.5 L677.5,140.5 Z" fill="#111"/>
<line x1="161" y1="381.6" x2="726.7" y2="154.7" stroke="#3d36a6" stroke-width="2.0"/>
<line x1="161" y1="436.7" x2="726.7" y2="209.2" stroke="#3d36a6" stroke-width="2.0"/>
<circle cx="601.6" cy="177.1" r="14" fill="rgba(240,60,60,0.18)" stroke="#f01010" stroke-width="2"/>
<circle cx="671.8" cy="176.1" r="14" fill="rgba(240,60,60,0.18)" stroke="#f01010" stroke-width="2"/>
<path d="M25,294.8 L27.7,297.8 L25.9,297.8 L25.9,301 L24.1,301 L24.1,297.8 L22.3,297.8 Z" fill="#1f9a1f"/>
<path d="M200.2,393.8 L202.89999999999998,396.8 L201.1,396.8 L201.1,400 L199.29999999999998,400 L199.29999999999998,396.8 L197.5,396.8 Z" fill="#1f9a1f"/>
<path d="M265.8,349.40000000000003 L268.5,352.40000000000003 L266.7,352.40000000000003 L266.7,355.6 L264.90000000000003,355.6 L264.90000000000003,352.40000000000003 L263.1,352.40000000000003 Z" fill="#1f9a1f"/>
<path d="M384,317.8 L386.7,320.8 L384.9,320.8 L384.9,324 L383.1,324 L383.1,320.8 L381.3,320.8 Z" fill="#1f9a1f"/>
<path d="M413.3,310.3 L416.0,313.3 L414.2,313.3 L414.2,316.5 L412.40000000000003,316.5 L412.40000000000003,313.3 L410.6,313.3 Z" fill="#1f9a1f"/>
<path d="M449.7,304.0 L452.4,307.0 L450.59999999999997,307.0 L450.59999999999997,310.2 L448.8,310.2 L448.8,307.0 L447.0,307.0 Z" fill="#1f9a1f"/>
<path d="M464.7,284.2 L467.4,287.2 L465.59999999999997,287.2 L465.59999999999997,290.4 L463.8,290.4 L463.8,287.2 L462.0,287.2 Z" fill="#1f9a1f"/>
<path d="M518.6,268.6 L521.3000000000001,271.6 L519.5,271.6 L519.5,274.8 L517.7,274.8 L517.7,271.6 L515.9,271.6 Z" fill="#1f9a1f"/>
<path d="M552.4,231.3 L555.1,234.3 L553.3,234.3 L553.3,237.5 L551.5,237.5 L551.5,234.3 L549.6999999999999,234.3 Z" fill="#1f9a1f"/>
<path d="M576.3,205.10000000000002 L579.0,208.10000000000002 L577.1999999999999,208.10000000000002 L577.1999999999999,211.3 L575.4,211.3 L575.4,208.10000000000002 L573.5999999999999,208.10000000000002 Z" fill="#1f9a1f"/>
<path d="M621,181.5 L623.7,184.5 L621.9,184.5 L621.9,187.7 L620.1,187.7 L620.1,184.5 L618.3,184.5 Z" fill="#1f9a1f"/>
<path d="M624.7,175.8 L627.4000000000001,178.8 L625.6,178.8 L625.6,182 L623.8000000000001,182 L623.8000000000001,178.8 L622.0,178.8 Z" fill="#1f9a1f"/>
<path d="M631.4,157.10000000000002 L634.1,160.10000000000002 L632.3,160.10000000000002 L632.3,163.3 L630.5,163.3 L630.5,160.10000000000002 L628.6999999999999,160.10000000000002 Z" fill="#1f9a1f"/>
<path d="M643.5,115.3 L646.2,118.3 L644.4,118.3 L644.4,121.5 L642.6,121.5 L642.6,118.3 L640.8,118.3 Z" fill="#1f9a1f"/>
<path d="M80.4,296.59999999999997 L83.10000000000001,293.59999999999997 L81.30000000000001,293.59999999999997 L81.30000000000001,290.4 L79.5,290.4 L79.5,293.59999999999997 L77.7,293.59999999999997 Z" fill="#b01818"/>
<path d="M116.8,314.2 L119.5,311.2 L117.7,311.2 L117.7,308 L115.89999999999999,308 L115.89999999999999,311.2 L114.1,311.2 Z" fill="#b01818"/>
<path d="M150.5,394.2 L153.2,391.2 L151.4,391.2 L151.4,388 L149.6,388 L149.6,391.2 L147.8,391.2 Z" fill="#b01818"/>
<text x="202" y="369.3" font-family='"Liberation Sans", sans-serif' font-size="10.6" fill="#1a1a1a" stroke="#1a1a1a" stroke-width="0.35" text-anchor="middle">1</text>
<text x="221.4" y="435.1" font-family='"Liberation Sans", sans-serif' font-size="10.6" fill="#1a1a1a" stroke="#1a1a1a" stroke-width="0.35" text-anchor="middle">2</text>
<text x="265.7" y="327.2" font-family='"Liberation Sans", sans-serif' font-size="10.6" fill="#1a1a1a" stroke="#1a1a1a" stroke-width="0.35" text-anchor="middle">3</text>
<text x="279" y="380.2" font-family='"Liberation Sans", sans-serif' font-size="10.6" fill="#1a1a1a" stroke="#1a1a1a" stroke-width="0.35" text-anchor="middle">4</text>
<text x="315" y="306.7" font-family='"Liberation Sans", sans-serif' font-size="10.6" fill="#1a1a1a" stroke="#1a1a1a" stroke-width="0.35" text-anchor="middle">(1)</text>
<text x="315" y="319.7" font-family='"Liberation Sans", sans-serif' font-size="10.6" fill="#1a1a1a" stroke="#1a1a1a" stroke-width="0.35" text-anchor="middle">5</text>
<text x="330.5" y="358.5" font-family='"Liberation Sans", sans-serif' font-size="10.6" fill="#1a1a1a" stroke="#1a1a1a" stroke-width="0.35" text-anchor="middle">A</text>
<text x="334.7" y="330.4" font-family='"Liberation Sans", sans-serif' font-size="10.6" fill="#1a1a1a" stroke="#1a1a1a" stroke-width="0.35" text-anchor="middle">B</text>
<text x="338.3" y="373.7" font-family='"Liberation Sans", sans-serif' font-size="10.6" fill="#1a1a1a" stroke="#1a1a1a" stroke-width="0.35" text-anchor="middle">C</text>
<text x="338" y="385.7" font-family='"Liberation Sans", sans-serif' font-size="10.6" fill="#1a1a1a" stroke="#1a1a1a" stroke-width="0.35" text-anchor="middle">(2)</text>
<text x="385.5" y="307.7" font-family='"Liberation Sans", sans-serif' font-size="10.6" fill="#1a1a1a" stroke="#1a1a1a" stroke-width="0.35" text-anchor="middle">1</text>
<text x="406.6" y="356.3" font-family='"Liberation Sans", sans-serif' font-size="10.6" fill="#1a1a1a" stroke="#1a1a1a" stroke-width="0.35" text-anchor="middle">2</text>
<text x="455.5" y="283.7" font-family='"Liberation Sans", sans-serif' font-size="10.6" fill="#1a1a1a" stroke="#1a1a1a" stroke-width="0.35" text-anchor="middle">3</text>
<text x="462" y="305.7" font-family='"Liberation Sans", sans-serif' font-size="10.6" fill="#1a1a1a" stroke="#1a1a1a" stroke-width="0.35" text-anchor="middle">4</text>
<text x="482" y="247.5" font-family='"Liberation Sans", sans-serif' font-size="10.6" fill="#1a1a1a" stroke="#1a1a1a" stroke-width="0.35" text-anchor="middle">(3)</text>
<text x="481.6" y="260.7" font-family='"Liberation Sans", sans-serif' font-size="10.6" fill="#1a1a1a" stroke="#1a1a1a" stroke-width="0.35" text-anchor="middle">5</text>
<text x="487.3" y="307.7" font-family='"Liberation Sans", sans-serif' font-size="10.6" fill="#1a1a1a" stroke="#1a1a1a" stroke-width="0.35" text-anchor="middle">(4)</text>
<text x="599.2" y="155.7" font-family='"Liberation Sans", sans-serif' font-size="10.6" fill="#1a1a1a" stroke="#1a1a1a" stroke-width="0.35" text-anchor="middle">1</text>
<text x="612" y="218.0" font-family='"Liberation Sans", sans-serif' font-size="10.6" fill="#1a1a1a" stroke="#1a1a1a" stroke-width="0.35" text-anchor="middle">2</text>
<text x="650.3" y="70.4" font-family='"Liberation Sans", sans-serif' font-size="10.6" fill="#1a1a1a" stroke="#1a1a1a" stroke-width="0.35" text-anchor="middle">3</text>
<text x="679.7" y="215.7" font-family='"Liberation Sans", sans-serif' font-size="10.6" fill="#1a1a1a" stroke="#1a1a1a" stroke-width="0.35" text-anchor="middle">4</text>
<text x="709.8" y="61.4" font-family='"Liberation Sans", sans-serif' font-size="10.6" fill="#1a1a1a" stroke="#1a1a1a" stroke-width="0.35" text-anchor="middle">(5)</text>
<text x="169.7" y="460.7" font-family='"Liberation Sans", sans-serif' font-size="10.6" fill="#1a1a1a" stroke="#1a1a1a" stroke-width="0.35" text-anchor="middle">(0)</text>
<circle cx="212.5" cy="370" r="4.8" fill="none" stroke="#222" stroke-width="0.85"/>
<text x="212.5" y="372.4" font-family='"Liberation Serif", serif' font-size="8" font-weight="bold" fill="#111" text-anchor="middle">b</text>
<circle cx="208.3" cy="408.3" r="4.8" fill="none" stroke="#222" stroke-width="0.85"/>
<text x="208.3" y="410.7" font-family='"Liberation Serif", serif' font-size="8" font-weight="bold" fill="#111" text-anchor="middle">a</text>
<circle cx="221.4" cy="419" r="4.8" fill="none" stroke="#222" stroke-width="0.85"/>
<text x="221.4" y="421.4" font-family='"Liberation Serif", serif' font-size="8" font-weight="bold" fill="#111" text-anchor="middle">c</text>
<circle cx="242.5" cy="355.8" r="4.8" fill="none" stroke="#222" stroke-width="0.85"/>
<text x="242.5" y="358.2" font-family='"Liberation Serif", serif' font-size="8" font-weight="bold" fill="#111" text-anchor="middle">i</text>
<circle cx="259.2" cy="346.5" r="4.8" fill="none" stroke="#222" stroke-width="0.85"/>
<text x="259.2" y="348.9" font-family='"Liberation Serif", serif' font-size="5.8" font-weight="bold" fill="#111" text-anchor="middle">iii</text>
<circle cx="266" cy="336" r="4.8" fill="none" stroke="#222" stroke-width="0.85"/>
<text x="266" y="338.4" font-family='"Liberation Serif", serif' font-size="8" font-weight="bold" fill="#111" text-anchor="middle">v</text>
<circle cx="263.3" cy="369.2" r="4.8" fill="none" stroke="#222" stroke-width="0.85"/>
<text x="263.3" y="371.59999999999997" font-family='"Liberation Serif", serif' font-size="6.5" font-weight="bold" fill="#111" text-anchor="middle">iv</text>
<circle cx="255.4" cy="403.75" r="4.8" fill="none" stroke="#222" stroke-width="0.85"/>
<text x="255.4" y="406.15" font-family='"Liberation Serif", serif' font-size="6.5" font-weight="bold" fill="#111" text-anchor="middle">ii</text>
<circle cx="396.7" cy="304.7" r="4.8" fill="none" stroke="#222" stroke-width="0.85"/>
<text x="396.7" y="307.09999999999997" font-family='"Liberation Serif", serif' font-size="8" font-weight="bold" fill="#111" text-anchor="middle">b</text>
<circle cx="391.7" cy="330.8" r="4.8" fill="none" stroke="#222" stroke-width="0.85"/>
<text x="391.7" y="333.2" font-family='"Liberation Serif", serif' font-size="8" font-weight="bold" fill="#111" text-anchor="middle">a</text>
<circle cx="406.7" cy="339.2" r="4.8" fill="none" stroke="#222" stroke-width="0.85"/>
<text x="406.7" y="341.59999999999997" font-family='"Liberation Serif", serif' font-size="8" font-weight="bold" fill="#111" text-anchor="middle">c</text>
<circle cx="493.5" cy="270.7" r="4.8" fill="none" stroke="#222" stroke-width="0.85"/>
<text x="493.5" y="273.09999999999997" font-family='"Liberation Serif", serif' font-size="8" font-weight="bold" fill="#111" text-anchor="middle">i</text>
<circle cx="507.7" cy="303" r="4.8" fill="none" stroke="#222" stroke-width="0.85"/>
<text x="507.7" y="305.4" font-family='"Liberation Serif", serif' font-size="6.5" font-weight="bold" fill="#111" text-anchor="middle">ii</text>
<circle cx="557.5" cy="255.8" r="4.8" fill="none" stroke="#222" stroke-width="0.85"/>
<text x="557.5" y="258.2" font-family='"Liberation Serif", serif' font-size="8" font-weight="bold" fill="#111" text-anchor="middle">b</text>
<circle cx="552.4" cy="208.5" r="4.8" fill="none" stroke="#222" stroke-width="0.85"/>
<text x="552.4" y="210.9" font-family='"Liberation Serif", serif' font-size="8" font-weight="bold" fill="#111" text-anchor="middle">a</text>
<circle cx="577.5" cy="193.3" r="4.8" fill="none" stroke="#222" stroke-width="0.85"/>
<text x="577.5" y="195.70000000000002" font-family='"Liberation Serif", serif' font-size="8" font-weight="bold" fill="#111" text-anchor="middle">i</text>
<circle cx="584.2" cy="222.5" r="4.8" fill="none" stroke="#222" stroke-width="0.85"/>
<text x="584.2" y="224.9" font-family='"Liberation Serif", serif' font-size="6.5" font-weight="bold" fill="#111" text-anchor="middle">ii</text>
<circle cx="598.8" cy="164.6" r="4.8" fill="none" stroke="#222" stroke-width="0.85"/>
<text x="598.8" y="167.0" font-family='"Liberation Serif", serif' font-size="8" font-weight="bold" fill="#111" text-anchor="middle">c</text>
<circle cx="626.5" cy="145" r="4.8" fill="none" stroke="#222" stroke-width="0.85"/>
<text x="626.5" y="147.4" font-family='"Liberation Serif", serif' font-size="8" font-weight="bold" fill="#111" text-anchor="middle">a</text>
<circle cx="629" cy="177" r="4.8" fill="none" stroke="#222" stroke-width="0.85"/>
<text x="629" y="179.4" font-family='"Liberation Serif", serif' font-size="8" font-weight="bold" fill="#111" text-anchor="middle">b</text>
<circle cx="650.4" cy="78.9" r="4.8" fill="none" stroke="#222" stroke-width="0.85"/>
<text x="650.4" y="81.30000000000001" font-family='"Liberation Serif", serif' font-size="8" font-weight="bold" fill="#111" text-anchor="middle">c</text>
<circle cx="654.4" cy="100.2" r="4.8" fill="none" stroke="#222" stroke-width="0.85"/>
<text x="654.4" y="102.60000000000001" font-family='"Liberation Serif", serif' font-size="8" font-weight="bold" fill="#111" text-anchor="middle">b</text>
<circle cx="651.5" cy="155.5" r="4.8" fill="none" stroke="#222" stroke-width="0.85"/>
<text x="651.5" y="157.9" font-family='"Liberation Serif", serif' font-size="8" font-weight="bold" fill="#111" text-anchor="middle">a</text>
<circle cx="673" cy="197.6" r="4.8" fill="none" stroke="#222" stroke-width="0.85"/>
<text x="673" y="200.0" font-family='"Liberation Serif", serif' font-size="8" font-weight="bold" fill="#111" text-anchor="middle">i</text>
<circle cx="679.7" cy="199.5" r="4.8" fill="none" stroke="#222" stroke-width="0.85"/>
<text x="679.7" y="201.9" font-family='"Liberation Serif", serif' font-size="8" font-weight="bold" fill="#111" text-anchor="middle">c</text>
<text x="250" y="360.9" font-family='"Liberation Serif", serif' font-size="9" fill="#111" text-anchor="middle">(b)</text>
<text x="246.2" y="392.2" font-family='"Liberation Serif", serif' font-size="9" fill="#111" text-anchor="middle">(a)</text>
<text x="255.4" y="395.5" font-family='"Liberation Serif", serif' font-size="9" fill="#111" text-anchor="middle">(c)</text>
<text x="522" y="252.8" font-family='"Liberation Serif", serif' font-size="9" fill="#111" text-anchor="middle">(iii)</text>
<text x="530.6" y="284.1" font-family='"Liberation Serif", serif' font-size="9" fill="#111" text-anchor="middle">(iv)</text>
<text x="551.7" y="223.4" font-family='"Liberation Serif", serif' font-size="9" fill="#111" text-anchor="middle">(v)</text>
<text x="586.7" y="186.8" font-family='"Liberation Serif", serif' font-size="9" fill="#111" text-anchor="middle">(iii)</text>
<text x="599.2" y="178.4" font-family='"Liberation Serif", serif' font-size="9" fill="#111" text-anchor="middle">(c)</text>
<text x="589.2" y="213.4" font-family='"Liberation Serif", serif' font-size="9" fill="#111" text-anchor="middle">(iv)</text>
<rect x="757.5" y="81.12" width="32.5" height="7.6" rx="2" fill="#fff" stroke="#c85050" stroke-width="0.8"/>
<text x="773.75" y="87.12" font-family='"Liberation Sans", sans-serif' font-size="6.2" fill="#222" text-anchor="middle" textLength="29.9" lengthAdjust="spacingAndGlyphs">0.0%(95.46)</text>
<rect x="754.4" y="119.57" width="35.60000000000002" height="7.6" rx="2" fill="#fff" stroke="#c85050" stroke-width="0.8"/>
<text x="772.2" y="125.57" font-family='"Liberation Sans", sans-serif' font-size="6.2" fill="#222" text-anchor="middle" textLength="33.00000000000002" lengthAdjust="spacingAndGlyphs">23.6%(90.50)</text>
<rect x="754.0" y="143.30" width="36.0" height="7.6" rx="2" fill="#fff" stroke="#c85050" stroke-width="0.8"/>
<text x="772.0" y="149.30" font-family='"Liberation Sans", sans-serif' font-size="6.2" fill="#222" text-anchor="middle" textLength="33.4" lengthAdjust="spacingAndGlyphs">38.2%(87.44)</text>
<rect x="754.0" y="162.53" width="36.0" height="7.6" rx="2" fill="#fff" stroke="#c85050" stroke-width="0.8"/>
<text x="772.0" y="168.53" font-family='"Liberation Sans", sans-serif' font-size="6.2" fill="#222" text-anchor="middle" textLength="33.4" lengthAdjust="spacingAndGlyphs">50.0%(84.96)</text>
<rect x="754.0" y="181.75" width="36.0" height="7.6" rx="2" fill="#fff" stroke="#c85050" stroke-width="0.8"/>
<text x="772.0" y="187.75" font-family='"Liberation Sans", sans-serif' font-size="6.2" fill="#222" text-anchor="middle" textLength="33.4" lengthAdjust="spacingAndGlyphs">61.8%(82.48)</text>
<rect x="754.0" y="209.04" width="36.0" height="7.6" rx="2" fill="#fff" stroke="#c85050" stroke-width="0.8"/>
<text x="772.0" y="215.04" font-family='"Liberation Sans", sans-serif' font-size="6.2" fill="#222" text-anchor="middle" textLength="33.4" lengthAdjust="spacingAndGlyphs">78.6%(78.96)</text>
<rect x="751.6" y="243.85" width="38.39999999999998" height="7.6" rx="2" fill="#fff" stroke="#c85050" stroke-width="0.8"/>
<text x="770.8" y="249.85" font-family='"Liberation Sans", sans-serif' font-size="6.2" fill="#222" text-anchor="middle" textLength="35.799999999999976" lengthAdjust="spacingAndGlyphs">100.0%(74.47)</text>
<rect x="927.3" y="0" width="64.3" height="64.3" fill="#ee2a2e"/>
<line x1="936.5" y1="1" x2="936.5" y2="64" stroke="#000" stroke-width="1" stroke-dasharray="2.4,1.8" opacity="0.12"/>
<line x1="983.5" y1="1" x2="983.5" y2="64" stroke="#000" stroke-width="1" stroke-dasharray="2.4,1.8" opacity="0.12"/>
<text x="937.3" y="35.2" font-family='"Liberation Serif", serif' font-size="18.8" fill="#fff" stroke="#fff" stroke-width="0.55" textLength="44.5" lengthAdjust="spacingAndGlyphs">FxPro</text>
<text x="937.3" y="42.8" font-family='"Liberation Sans", sans-serif' font-size="6.7" fill="#fff" textLength="44.2" lengthAdjust="spacingAndGlyphs">Trade Like a Pro</text>
<line x1="1000.4" y1="0" x2="1000.4" y2="470" stroke="#d8d8c8" stroke-width="1"/>
<line x1="1003.9" y1="0" x2="1003.9" y2="470.7" stroke="#b4b4b4" stroke-width="1.6"/>
<line x1="0" y1="470.2" x2="1004.7" y2="470.2" stroke="#8a8a8a" stroke-width="1.1"/>
<line x1="1002.2" y1="468.38" x2="1004" y2="468.38" stroke="#333" stroke-width="0.9"/>
<line x1="1002.2" y1="464.51" x2="1004" y2="464.51" stroke="#333" stroke-width="0.9"/>
<line x1="1002.2" y1="460.63" x2="1004" y2="460.63" stroke="#333" stroke-width="0.9"/>
<line x1="1002.2" y1="456.75" x2="1004" y2="456.75" stroke="#333" stroke-width="0.9"/>
<line x1="1002.2" y1="452.88" x2="1004" y2="452.88" stroke="#333" stroke-width="0.9"/>
<line x1="1002.2" y1="449.00" x2="1004" y2="449.00" stroke="#333" stroke-width="0.9"/>
<line x1="1002.2" y1="445.12" x2="1004" y2="445.12" stroke="#333" stroke-width="0.9"/>
<line x1="1002.2" y1="441.25" x2="1004" y2="441.25" stroke="#333" stroke-width="0.9"/>
<line x1="1000.1" y1="437.37" x2="1004" y2="437.37" stroke="#333" stroke-width="0.9"/>
<line x1="1002.2" y1="433.49" x2="1004" y2="433.49" stroke="#333" stroke-width="0.9"/>
<line x1="1002.2" y1="429.62" x2="1004" y2="429.62" stroke="#333" stroke-width="0.9"/>
<line x1="1002.2" y1="425.74" x2="1004" y2="425.74" stroke="#333" stroke-width="0.9"/>
<line x1="1002.2" y1="421.86" x2="1004" y2="421.86" stroke="#333" stroke-width="0.9"/>
<line x1="1002.2" y1="417.99" x2="1004" y2="417.99" stroke="#333" stroke-width="0.9"/>
<line x1="1002.2" y1="414.11" x2="1004" y2="414.11" stroke="#333" stroke-width="0.9"/>
<line x1="1002.2" y1="410.23" x2="1004" y2="410.23" stroke="#333" stroke-width="0.9"/>
<line x1="1002.2" y1="406.36" x2="1004" y2="406.36" stroke="#333" stroke-width="0.9"/>
<line x1="1002.2" y1="402.48" x2="1004" y2="402.48" stroke="#333" stroke-width="0.9"/>
<line x1="1000.1" y1="398.61" x2="1004" y2="398.61" stroke="#333" stroke-width="0.9"/>
<line x1="1002.2" y1="394.73" x2="1004" y2="394.73" stroke="#333" stroke-width="0.9"/>
<line x1="1002.2" y1="390.85" x2="1004" y2="390.85" stroke="#333" stroke-width="0.9"/>
<line x1="1002.2" y1="386.98" x2="1004" y2="386.98" stroke="#333" stroke-width="0.9"/>
<line x1="1002.2" y1="383.10" x2="1004" y2="383.10" stroke="#333" stroke-width="0.9"/>
<line x1="1002.2" y1="379.22" x2="1004" y2="379.22" stroke="#333" stroke-width="0.9"/>
<line x1="1002.2" y1="375.35" x2="1004" y2="375.35" stroke="#333" stroke-width="0.9"/>
<line x1="1002.2" y1="371.47" x2="1004" y2="371.47" stroke="#333" stroke-width="0.9"/>
<line x1="1002.2" y1="367.59" x2="1004" y2="367.59" stroke="#333" stroke-width="0.9"/>
<line x1="1002.2" y1="363.72" x2="1004" y2="363.72" stroke="#333" stroke-width="0.9"/>
<line x1="1000.1" y1="359.84" x2="1004" y2="359.84" stroke="#333" stroke-width="0.9"/>
<line x1="1002.2" y1="355.96" x2="1004" y2="355.96" stroke="#333" stroke-width="0.9"/>
<line x1="1002.2" y1="352.09" x2="1004" y2="352.09" stroke="#333" stroke-width="0.9"/>
<line x1="1002.2" y1="348.21" x2="1004" y2="348.21" stroke="#333" stroke-width="0.9"/>
<line x1="1002.2" y1="344.33" x2="1004" y2="344.33" stroke="#333" stroke-width="0.9"/>
<line x1="1002.2" y1="340.46" x2="1004" y2="340.46" stroke="#333" stroke-width="0.9"/>
<line x1="1002.2" y1="336.58" x2="1004" y2="336.58" stroke="#333" stroke-width="0.9"/>
<line x1="1002.2" y1="332.70" x2="1004" y2="332.70" stroke="#333" stroke-width="0.9"/>
<line x1="1002.2" y1="328.83" x2="1004" y2="328.83" stroke="#333" stroke-width="0.9"/>
<line x1="1002.2" y1="324.95" x2="1004" y2="324.95" stroke="#333" stroke-width="0.9"/>
<line x1="1000.1" y1="321.07" x2="1004" y2="321.07" stroke="#333" stroke-width="0.9"/>
<line x1="1002.2" y1="317.20" x2="1004" y2="317.20" stroke="#333" stroke-width="0.9"/>
<line x1="1002.2" y1="313.32" x2="1004" y2="313.32" stroke="#333" stroke-width="0.9"/>
<line x1="1002.2" y1="309.45" x2="1004" y2="309.45" stroke="#333" stroke-width="0.9"/>
<line x1="1002.2" y1="305.57" x2="1004" y2="305.57" stroke="#333" stroke-width="0.9"/>
<line x1="1002.2" y1="301.69" x2="1004" y2="301.69" stroke="#333" stroke-width="0.9"/>
<line x1="1002.2" y1="297.82" x2="1004" y2="297.82" stroke="#333" stroke-width="0.9"/>
<line x1="1002.2" y1="293.94" x2="1004" y2="293.94" stroke="#333" stroke-width="0.9"/>
<line x1="1002.2" y1="290.06" x2="1004" y2="290.06" stroke="#333" stroke-width="0.9"/>
<line x1="1002.2" y1="286.19" x2="1004" y2="286.19" stroke="#333" stroke-width="0.9"/>
<line x1="1000.1" y1="282.31" x2="1004" y2="282.31" stroke="#333" stroke-width="0.9"/>
<line x1="1002.2" y1="278.43" x2="1004" y2="278.43" stroke="#333" stroke-width="0.9"/>
<line x1="1002.2" y1="274.56" x2="1004" y2="274.56" stroke="#333" stroke-width="0.9"/>
<line x1="1002.2" y1="270.68" x2="1004" y2="270.68" stroke="#333" stroke-width="0.9"/>
<line x1="1002.2" y1="266.80" x2="1004" y2="266.80" stroke="#333" stroke-width="0.9"/>
<line x1="1002.2" y1="262.93" x2="1004" y2="262.93" stroke="#333" stroke-width="0.9"/>
<line x1="1002.2" y1="259.05" x2="1004" y2="259.05" stroke="#333" stroke-width="0.9"/>
<line x1="1002.2" y1="255.17" x2="1004" y2="255.17" stroke="#333" stroke-width="0.9"/>
<line x1="1002.2" y1="251.30" x2="1004" y2="251.30" stroke="#333" stroke-width="0.9"/>
<line x1="1002.2" y1="247.42" x2="1004" y2="247.42" stroke="#333" stroke-width="0.9"/>
<line x1="1000.1" y1="243.55" x2="1004" y2="243.55" stroke="#333" stroke-width="0.9"/>
<line x1="1002.2" y1="239.67" x2="1004" y2="239.67" stroke="#333" stroke-width="0.9"/>
<line x1="1002.2" y1="235.79" x2="1004" y2="235.79" stroke="#333" stroke-width="0.9"/>
<line x1="1002.2" y1="231.92" x2="1004" y2="231.92" stroke="#333" stroke-width="0.9"/>
<line x1="1002.2" y1="228.04" x2="1004" y2="228.04" stroke="#333" stroke-width="0.9"/>
<line x1="1002.2" y1="224.16" x2="1004" y2="224.16" stroke="#333" stroke-width="0.9"/>
<line x1="1002.2" y1="220.29" x2="1004" y2="220.29" stroke="#333" stroke-width="0.9"/>
<line x1="1002.2" y1="216.41" x2="1004" y2="216.41" stroke="#333" stroke-width="0.9"/>
<line x1="1002.2" y1="212.53" x2="1004" y2="212.53" stroke="#333" stroke-width="0.9"/>
<line x1="1002.2" y1="208.66" x2="1004" y2="208.66" stroke="#333" stroke-width="0.9"/>
<line x1="1000.1" y1="204.78" x2="1004" y2="204.78" stroke="#333" stroke-width="0.9"/>
<line x1="1002.2" y1="200.90" x2="1004" y2="200.90" stroke="#333" stroke-width="0.9"/>
<line x1="1002.2" y1="197.03" x2="1004" y2="197.03" stroke="#333" stroke-width="0.9"/>
<line x1="1002.2" y1="193.15" x2="1004" y2="193.15" stroke="#333" stroke-width="0.9"/>
<line x1="1002.2" y1="189.27" x2="1004" y2="189.27" stroke="#333" stroke-width="0.9"/>
<line x1="1002.2" y1="185.40" x2="1004" y2="185.40" stroke="#333" stroke-width="0.9"/>
<line x1="1002.2" y1="181.52" x2="1004" y2="181.52" stroke="#333" stroke-width="0.9"/>
<line x1="1002.2" y1="177.64" x2="1004" y2="177.64" stroke="#333" stroke-width="0.9"/>
<line x1="1002.2" y1="173.77" x2="1004" y2="173.77" stroke="#333" stroke-width="0.9"/>
<line x1="1002.2" y1="169.89" x2="1004" y2="169.89" stroke="#333" stroke-width="0.9"/>
<line x1="1000.1" y1="166.01" x2="1004" y2="166.01" stroke="#333" stroke-width="0.9"/>
<line x1="1002.2" y1="162.14" x2="1004" y2="162.14" stroke="#333" stroke-width="0.9"/>
<line x1="1002.2" y1="158.26" x2="1004" y2="158.26" stroke="#333" stroke-width="0.9"/>
<line x1="1002.2" y1="154.39" x2="1004" y2="154.39" stroke="#333" stroke-width="0.9"/>
<line x1="1002.2" y1="150.51" x2="1004" y2="150.51" stroke="#333" stroke-width="0.9"/>
<line x1="1002.2" y1="146.63" x2="1004" y2="146.63" stroke="#333" stroke-width="0.9"/>
<line x1="1002.2" y1="142.76" x2="1004" y2="142.76" stroke="#333" stroke-width="0.9"/>
<line x1="1002.2" y1="138.88" x2="1004" y2="138.88" stroke="#333" stroke-width="0.9"/>
<line x1="1002.2" y1="135.00" x2="1004" y2="135.00" stroke="#333" stroke-width="0.9"/>
<line x1="1002.2" y1="131.13" x2="1004" y2="131.13" stroke="#333" stroke-width="0.9"/>
<line x1="1000.1" y1="127.25" x2="1004" y2="127.25" stroke="#333" stroke-width="0.9"/>
<line x1="1002.2" y1="123.37" x2="1004" y2="123.37" stroke="#333" stroke-width="0.9"/>
<line x1="1002.2" y1="119.50" x2="1004" y2="119.50" stroke="#333" stroke-width="0.9"/>
<line x1="1002.2" y1="115.62" x2="1004" y2="115.62" stroke="#333" stroke-width="0.9"/>
<line x1="1002.2" y1="111.74" x2="1004" y2="111.74" stroke="#333" stroke-width="0.9"/>
<line x1="1002.2" y1="107.87" x2="1004" y2="107.87" stroke="#333" stroke-width="0.9"/>
<line x1="1002.2" y1="103.99" x2="1004" y2="103.99" stroke="#333" stroke-width="0.9"/>
<line x1="1002.2" y1="100.11" x2="1004" y2="100.11" stroke="#333" stroke-width="0.9"/>
<line x1="1002.2" y1="96.24" x2="1004" y2="96.24" stroke="#333" stroke-width="0.9"/>
<line x1="1002.2" y1="92.36" x2="1004" y2="92.36" stroke="#333" stroke-width="0.9"/>
<line x1="1000.1" y1="88.49" x2="1004" y2="88.49" stroke="#333" stroke-width="0.9"/>
<line x1="1002.2" y1="84.61" x2="1004" y2="84.61" stroke="#333" stroke-width="0.9"/>
<line x1="1002.2" y1="80.73" x2="1004" y2="80.73" stroke="#333" stroke-width="0.9"/>
<line x1="1002.2" y1="76.86" x2="1004" y2="76.86" stroke="#333" stroke-width="0.9"/>
<line x1="1002.2" y1="72.98" x2="1004" y2="72.98" stroke="#333" stroke-width="0.9"/>
<line x1="1002.2" y1="69.10" x2="1004" y2="69.10" stroke="#333" stroke-width="0.9"/>
<line x1="1002.2" y1="65.23" x2="1004" y2="65.23" stroke="#333" stroke-width="0.9"/>
<line x1="1002.2" y1="61.35" x2="1004" y2="61.35" stroke="#333" stroke-width="0.9"/>
<line x1="1002.2" y1="57.47" x2="1004" y2="57.47" stroke="#333" stroke-width="0.9"/>
<line x1="1002.2" y1="53.60" x2="1004" y2="53.60" stroke="#333" stroke-width="0.9"/>
<line x1="1000.1" y1="49.72" x2="1004" y2="49.72" stroke="#333" stroke-width="0.9"/>
<line x1="1002.2" y1="45.84" x2="1004" y2="45.84" stroke="#333" stroke-width="0.9"/>
<line x1="1002.2" y1="41.97" x2="1004" y2="41.97" stroke="#333" stroke-width="0.9"/>
<line x1="1002.2" y1="38.09" x2="1004" y2="38.09" stroke="#333" stroke-width="0.9"/>
<line x1="1002.2" y1="34.21" x2="1004" y2="34.21" stroke="#333" stroke-width="0.9"/>
<line x1="1002.2" y1="30.34" x2="1004" y2="30.34" stroke="#333" stroke-width="0.9"/>
<line x1="1002.2" y1="26.46" x2="1004" y2="26.46" stroke="#333" stroke-width="0.9"/>
<line x1="1002.2" y1="22.58" x2="1004" y2="22.58" stroke="#333" stroke-width="0.9"/>
<line x1="1002.2" y1="18.71" x2="1004" y2="18.71" stroke="#333" stroke-width="0.9"/>
<line x1="1002.2" y1="14.83" x2="1004" y2="14.83" stroke="#333" stroke-width="0.9"/>
<line x1="1000.1" y1="10.95" x2="1004" y2="10.95" stroke="#333" stroke-width="0.9"/>
<line x1="1002.2" y1="7.08" x2="1004" y2="7.08" stroke="#333" stroke-width="0.9"/>
<line x1="1002.2" y1="3.20" x2="1004" y2="3.20" stroke="#333" stroke-width="0.9"/>
<text x="1005.8" y="439.57" font-family='"Liberation Sans", sans-serif' font-size="7.6" fill="#333" stroke="#333" stroke-width="0.22" textLength="16.1" lengthAdjust="spacingAndGlyphs">50.00</text>
<text x="1005.8" y="400.81" font-family='"Liberation Sans", sans-serif' font-size="7.6" fill="#333" stroke="#333" stroke-width="0.22" textLength="16.1" lengthAdjust="spacingAndGlyphs">55.00</text>
<text x="1005.8" y="362.04" font-family='"Liberation Sans", sans-serif' font-size="7.6" fill="#333" stroke="#333" stroke-width="0.22" textLength="16.1" lengthAdjust="spacingAndGlyphs">60.00</text>
<text x="1005.8" y="323.27" font-family='"Liberation Sans", sans-serif' font-size="7.6" fill="#333" stroke="#333" stroke-width="0.22" textLength="16.1" lengthAdjust="spacingAndGlyphs">65.00</text>
<text x="1005.8" y="284.51" font-family='"Liberation Sans", sans-serif' font-size="7.6" fill="#333" stroke="#333" stroke-width="0.22" textLength="16.1" lengthAdjust="spacingAndGlyphs">70.00</text>
<text x="1005.8" y="245.75" font-family='"Liberation Sans", sans-serif' font-size="7.6" fill="#333" stroke="#333" stroke-width="0.22" textLength="16.1" lengthAdjust="spacingAndGlyphs">75.00</text>
<text x="1005.8" y="206.98" font-family='"Liberation Sans", sans-serif' font-size="7.6" fill="#333" stroke="#333" stroke-width="0.22" textLength="16.1" lengthAdjust="spacingAndGlyphs">80.00</text>
<text x="1005.8" y="168.21" font-family='"Liberation Sans", sans-serif' font-size="7.6" fill="#333" stroke="#333" stroke-width="0.22" textLength="16.1" lengthAdjust="spacingAndGlyphs">85.00</text>
<text x="1005.8" y="129.45" font-family='"Liberation Sans", sans-serif' font-size="7.6" fill="#333" stroke="#333" stroke-width="0.22" textLength="16.1" lengthAdjust="spacingAndGlyphs">90.00</text>
<text x="1005.8" y="90.69" font-family='"Liberation Sans", sans-serif' font-size="7.6" fill="#333" stroke="#333" stroke-width="0.22" textLength="16.1" lengthAdjust="spacingAndGlyphs">95.00</text>
<text x="1005.8" y="51.92" font-family='"Liberation Sans", sans-serif' font-size="7.6" fill="#333" stroke="#333" stroke-width="0.22" textLength="19.7" lengthAdjust="spacingAndGlyphs">100.00</text>
<text x="1005.8" y="13.15" font-family='"Liberation Sans", sans-serif' font-size="7.6" fill="#333" stroke="#333" stroke-width="0.22" textLength="19.7" lengthAdjust="spacingAndGlyphs">105.00</text>
<text x="37.4" y="476.9" font-family='"Liberation Sans", sans-serif' font-size="7" fill="#333" text-anchor="middle" textLength="27.8" lengthAdjust="spacingAndGlyphs">Jan-2020</text>
<text x="82.5" y="476.9" font-family='"Liberation Sans", sans-serif' font-size="7" fill="#333" text-anchor="middle" textLength="27.8" lengthAdjust="spacingAndGlyphs">Feb-2020</text>
<text x="123.1" y="476.9" font-family='"Liberation Sans", sans-serif' font-size="7" fill="#333" text-anchor="middle" textLength="27.8" lengthAdjust="spacingAndGlyphs">Mar-2020</text>
<text x="170" y="476.9" font-family='"Liberation Sans", sans-serif' font-size="7" fill="#333" text-anchor="middle" textLength="27.8" lengthAdjust="spacingAndGlyphs">Apr-2020</text>
<text x="214.5" y="476.9" font-family='"Liberation Sans", sans-serif' font-size="7" fill="#333" text-anchor="middle" textLength="27.8" lengthAdjust="spacingAndGlyphs">May-2020</text>
<text x="257.75" y="476.9" font-family='"Liberation Sans", sans-serif' font-size="7" fill="#333" text-anchor="middle" textLength="27.8" lengthAdjust="spacingAndGlyphs">Jun-2020</text>
<text x="304.25" y="476.9" font-family='"Liberation Sans", sans-serif' font-size="7" fill="#333" text-anchor="middle" textLength="27.8" lengthAdjust="spacingAndGlyphs">Jul-2020</text>
<text x="351.25" y="476.9" font-family='"Liberation Sans", sans-serif' font-size="7" fill="#333" text-anchor="middle" textLength="27.8" lengthAdjust="spacingAndGlyphs">Aug-2020</text>
<text x="396.25" y="476.9" font-family='"Liberation Sans", sans-serif' font-size="7" fill="#333" text-anchor="middle" textLength="27.8" lengthAdjust="spacingAndGlyphs">Sep-2020</text>
<text x="441.25" y="476.9" font-family='"Liberation Sans", sans-serif' font-size="7" fill="#333" text-anchor="middle" textLength="27.8" lengthAdjust="spacingAndGlyphs">Oct-2020</text>
<text x="488.5" y="476.9" font-family='"Liberation Sans", sans-serif' font-size="7" fill="#333" text-anchor="middle" textLength="27.8" lengthAdjust="spacingAndGlyphs">Nov-2020</text>
<text x="526.25" y="476.9" font-family='"Liberation Sans", sans-serif' font-size="7" fill="#333" text-anchor="middle" textLength="27.8" lengthAdjust="spacingAndGlyphs">Dec-2020</text>
<text x="573.5" y="476.9" font-family='"Liberation Sans", sans-serif' font-size="7" fill="#333" text-anchor="middle" textLength="27.8" lengthAdjust="spacingAndGlyphs">Jan-2021</text>
<text x="614.5" y="476.9" font-family='"Liberation Sans", sans-serif' font-size="7" fill="#333" text-anchor="middle" textLength="27.8" lengthAdjust="spacingAndGlyphs">Feb-2021</text>
<text x="654.5" y="476.9" font-family='"Liberation Sans", sans-serif' font-size="7" fill="#333" text-anchor="middle" textLength="27.8" lengthAdjust="spacingAndGlyphs">Mar-2021</text>
<text x="703.5" y="476.9" font-family='"Liberation Sans", sans-serif' font-size="7" fill="#333" text-anchor="middle" textLength="27.8" lengthAdjust="spacingAndGlyphs">Apr-2021</text>
<text x="750.5" y="476.9" font-family='"Liberation Sans", sans-serif' font-size="7" fill="#333" text-anchor="middle" textLength="27.8" lengthAdjust="spacingAndGlyphs">May-2021</text>
<text x="795.5" y="476.9" font-family='"Liberation Sans", sans-serif' font-size="7" fill="#333" text-anchor="middle" textLength="27.8" lengthAdjust="spacingAndGlyphs">Jun-2021</text>
<text x="842.5" y="476.9" font-family='"Liberation Sans", sans-serif' font-size="7" fill="#333" text-anchor="middle" textLength="27.8" lengthAdjust="spacingAndGlyphs">Jul-2021</text>
<text x="889.5" y="476.9" font-family='"Liberation Sans", sans-serif' font-size="7" fill="#333" text-anchor="middle" textLength="27.8" lengthAdjust="spacingAndGlyphs">Aug-2021</text>
<text x="936.5" y="476.9" font-family='"Liberation Sans", sans-serif' font-size="7" fill="#333" text-anchor="middle" textLength="27.8" lengthAdjust="spacingAndGlyphs">Sep-2021</text>
<path d="M1000.8,144.15 L1004.8,140.15 L1023,140.15 L1023,148.15 L1004.8,148.15 Z" fill="#fff" stroke="#999" stroke-width="0.8"/>
<text x="1005.8" y="146.75" font-family='"Liberation Sans", sans-serif' font-size="7.6" fill="#333" textLength="16" lengthAdjust="spacingAndGlyphs">87.82</text>
<text x="4.1" y="8.9" font-family='"Liberation Sans", sans-serif' font-size="6.8" font-weight="bold" fill="#333" textLength="52.6" lengthAdjust="spacingAndGlyphs">COTUSD - 1 day</text>
<text x="5.1" y="18.0" font-family='"Liberation Sans", sans-serif' font-size="5.7" fill="#72b0b2" textLength="45" lengthAdjust="spacingAndGlyphs">BB(20,20,2.0,2.0)</text>
<line x1="0.5" y1="0" x2="0.5" y2="479" stroke="#555" stroke-width="1.2"/>
<line x1="0" y1="0.5" x2="1024" y2="0.5" stroke="#555" stroke-width="1.2"/>
<line x1="1023.5" y1="0" x2="1023.5" y2="479" stroke="#666" stroke-width="1.2"/>
<line x1="0" y1="478.5" x2="1024" y2="478.5" stroke="#666" stroke-width="1.2"/>
</svg></body></html>
